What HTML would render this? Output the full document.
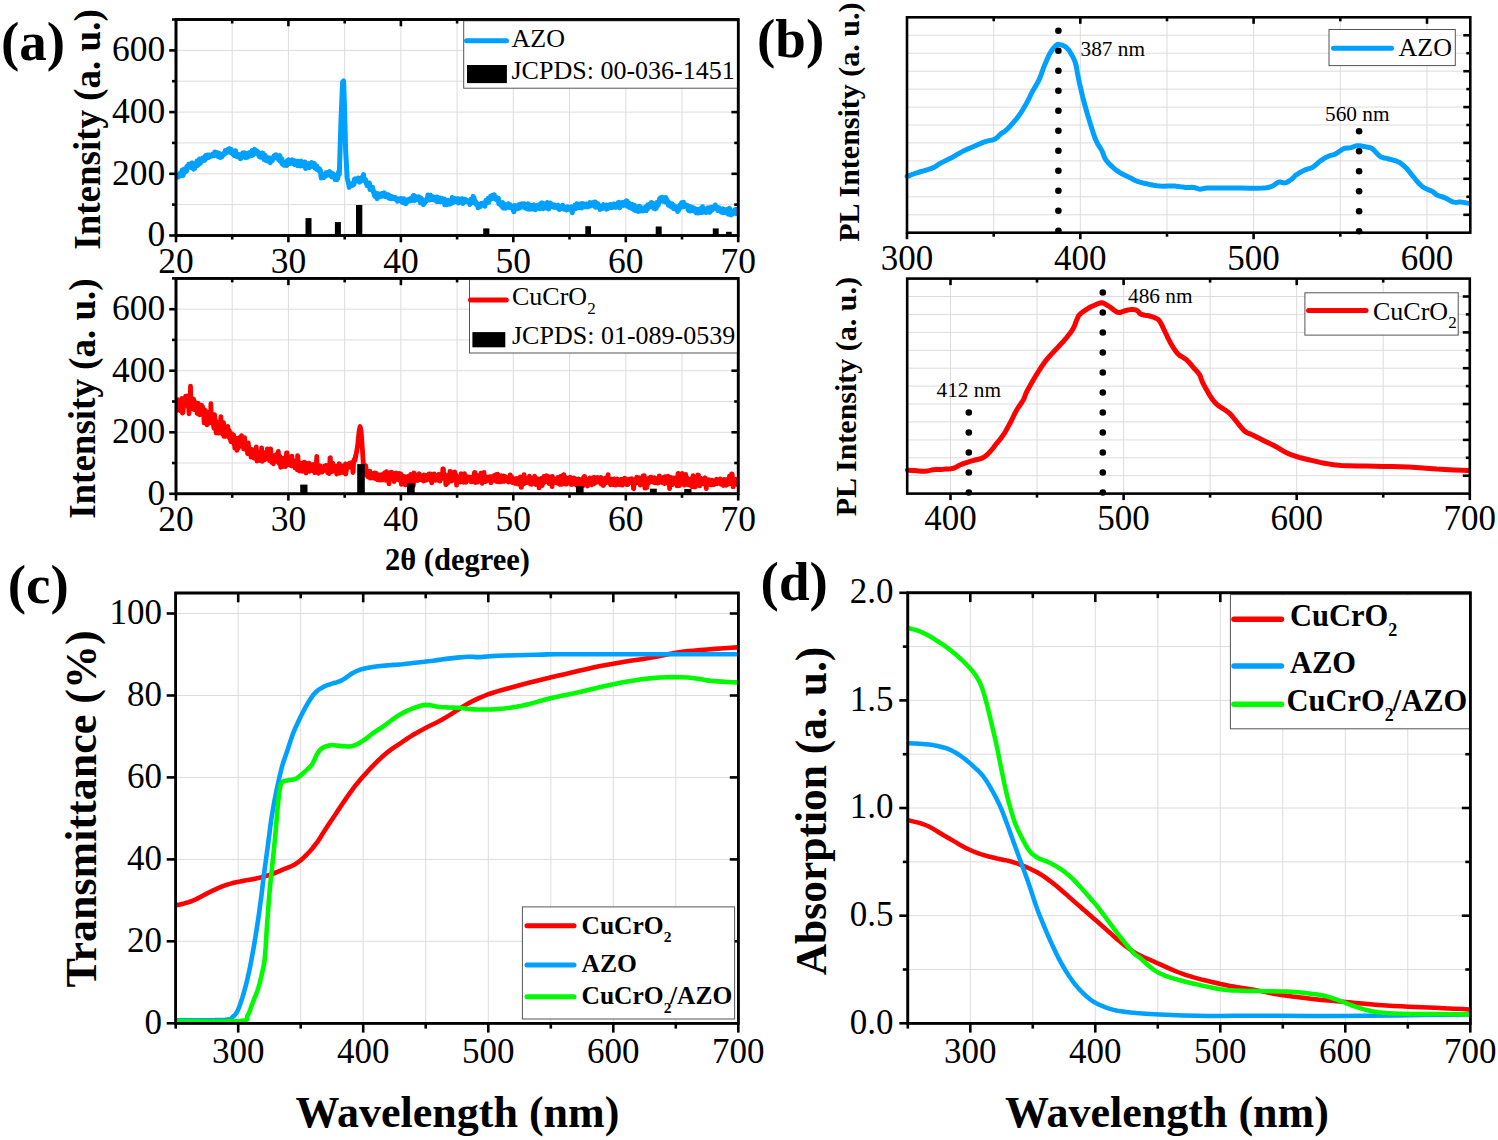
<!DOCTYPE html>
<html><head><meta charset="utf-8"><title>figure</title>
<style>html,body{margin:0;padding:0;background:#fff;}svg{display:block;}text{font-family:"Liberation Serif", serif;fill:#000;}</style>
</head><body>
<svg width="1498" height="1140" viewBox="0 0 1498 1140" font-family='"Liberation Serif", serif'>
<rect width="1498" height="1140" fill="#fff"/>
<line x1="232.2" y1="19.5" x2="232.2" y2="235.5" stroke="#dcdcdc" stroke-width="1" stroke-linecap="butt"/>
<line x1="288.4" y1="19.5" x2="288.4" y2="235.5" stroke="#dcdcdc" stroke-width="1" stroke-linecap="butt"/>
<line x1="344.7" y1="19.5" x2="344.7" y2="235.5" stroke="#dcdcdc" stroke-width="1" stroke-linecap="butt"/>
<line x1="400.9" y1="19.5" x2="400.9" y2="235.5" stroke="#dcdcdc" stroke-width="1" stroke-linecap="butt"/>
<line x1="457.1" y1="19.5" x2="457.1" y2="235.5" stroke="#dcdcdc" stroke-width="1" stroke-linecap="butt"/>
<line x1="513.3" y1="19.5" x2="513.3" y2="235.5" stroke="#dcdcdc" stroke-width="1" stroke-linecap="butt"/>
<line x1="569.5" y1="19.5" x2="569.5" y2="235.5" stroke="#dcdcdc" stroke-width="1" stroke-linecap="butt"/>
<line x1="625.8" y1="19.5" x2="625.8" y2="235.5" stroke="#dcdcdc" stroke-width="1" stroke-linecap="butt"/>
<line x1="682" y1="19.5" x2="682" y2="235.5" stroke="#dcdcdc" stroke-width="1" stroke-linecap="butt"/>
<line x1="176" y1="204.6" x2="738.2" y2="204.6" stroke="#dcdcdc" stroke-width="1" stroke-linecap="butt"/>
<line x1="176" y1="173.8" x2="738.2" y2="173.8" stroke="#dcdcdc" stroke-width="1" stroke-linecap="butt"/>
<line x1="176" y1="142.9" x2="738.2" y2="142.9" stroke="#dcdcdc" stroke-width="1" stroke-linecap="butt"/>
<line x1="176" y1="112.1" x2="738.2" y2="112.1" stroke="#dcdcdc" stroke-width="1" stroke-linecap="butt"/>
<line x1="176" y1="81.2" x2="738.2" y2="81.2" stroke="#dcdcdc" stroke-width="1" stroke-linecap="butt"/>
<line x1="176" y1="50.4" x2="738.2" y2="50.4" stroke="#dcdcdc" stroke-width="1" stroke-linecap="butt"/>
<rect x="305.5" y="218.1" width="6" height="17.4" fill="#000"/>
<rect x="334.9" y="222.1" width="6" height="13.4" fill="#000"/>
<rect x="356" y="205" width="6.3" height="30.5" fill="#000"/>
<rect x="483.2" y="228.4" width="6.2" height="7.1" fill="#000"/>
<rect x="585.3" y="226.2" width="5.7" height="9.3" fill="#000"/>
<rect x="655.7" y="226.5" width="6" height="9" fill="#000"/>
<rect x="712.8" y="228.4" width="5.9" height="7.1" fill="#000"/>
<rect x="726" y="231.8" width="5.7" height="3.7" fill="#000"/>
<polyline points="177.3,175.6 177.6,176.3 177.9,175.5 178.2,177.1 178.5,176.7 178.8,174.3 179.1,174.2 179.4,175.9 179.7,173.8 180,173.3 180.4,174.8 180.7,175.6 181,174.1 181.3,172.2 181.6,172.6 181.9,173.8 182.2,170.1 182.5,173.9 182.8,172.2 183.1,175.6 183.4,172.4 183.7,171.9 184,172.6 184.3,172.7 184.6,169 185,170.2 185.3,170.8 185.6,171 185.9,168.4 186.2,168.4 186.5,171.2 186.8,166.6 187.1,168.2 187.5,166.3 187.8,166.8 188.1,166.5 188.4,165.8 188.7,164.3 189,167.3 189.3,166 189.6,167.1 189.9,164.5 190.3,165.4 190.6,166.7 190.9,164.3 191.2,165.9 191.5,167.7 191.8,163 192.1,165.4 192.4,162.9 192.8,166.8 193.1,167.4 193.4,167.3 193.7,169.2 194,168.4 194.3,168.3 194.6,166.3 194.9,168.2 195.2,165 195.5,165.2 195.8,165.2 196.1,165.3 196.4,164.5 196.7,165.9 197,161 197.3,162 197.7,165.6 198,164.2 198.3,164 198.6,163.8 198.9,160.7 199.2,164 199.5,159.1 199.8,161.7 200.1,160.6 200.4,163.1 200.7,161.3 201,159.2 201.3,161 201.6,161.4 201.9,161 202.2,159.8 202.5,158.1 202.9,158.5 203.2,159.2 203.5,158.9 203.8,159.8 204.1,158.3 204.4,159.4 204.7,160.3 205,156.9 205.3,156.5 205.6,155.6 205.9,156.5 206.2,158 206.5,158.2 206.9,155.7 207.2,155 207.5,155.6 207.8,157.3 208.1,155.6 208.4,156.8 208.7,157.5 209,157.1 209.3,155 209.6,156.2 209.9,156.8 210.2,155.8 210.5,156 210.9,156 211.2,156.2 211.5,155.5 211.8,156 212.1,155.9 212.4,155.3 212.7,154 213,154.1 213.3,155.7 213.6,154.9 213.9,153.6 214.2,155.8 214.5,155.7 214.9,151.9 215.2,154.9 215.5,154.6 215.8,152.5 216.1,153.5 216.4,154.1 216.7,153.6 217,154.5 217.3,152.7 217.6,153.8 217.9,154.9 218.2,156.7 218.5,154.6 218.8,155.5 219.1,153.2 219.4,155.3 219.7,157.3 220.1,156.7 220.4,156.7 220.7,157.5 221,155.5 221.3,157 221.6,155.1 221.9,156.9 222.2,155.5 222.5,154.7 222.8,154.3 223.1,155.1 223.4,154.1 223.7,153.5 224,154.4 224.3,153.6 224.6,153.2 224.9,152.3 225.2,150.6 225.6,153.4 225.9,151.9 226.2,152 226.5,151 226.8,150.7 227.1,150.9 227.4,150.4 227.7,149.6 228,151.9 228.3,149.4 228.6,150.2 228.9,151 229.2,150 229.5,148.6 229.8,149.9 230.1,149.2 230.4,152.6 230.8,150.6 231.1,151.9 231.4,149.4 231.7,152.3 232,152.4 232.3,152.3 232.6,154 232.9,152.6 233.2,151.9 233.5,152.2 233.8,155.1 234.1,151.2 234.4,152.4 234.7,155.7 235,151.2 235.3,154.1 235.6,150.7 235.9,154.4 236.2,154.2 236.5,153.8 236.8,156.5 237.1,154.6 237.4,154.6 237.8,155.5 238.1,157 238.4,156.5 238.7,154.4 239,155.7 239.3,156.9 239.6,157.5 239.9,154.8 240.2,157.1 240.5,158.7 240.8,156.9 241.1,158.3 241.4,156.1 241.7,155.6 242,155.9 242.4,156.8 242.7,153.1 243,156 243.3,156.3 243.6,156.5 243.9,155.2 244.2,152.8 244.5,157.1 244.8,155 245.1,156.7 245.4,154.1 245.8,157.6 246.1,156.5 246.4,154.8 246.7,155 247,153.2 247.3,154.8 247.6,157.3 247.9,153.7 248.2,154.1 248.6,154.9 248.9,152.9 249.2,155.3 249.5,155.9 249.8,152.6 250.1,153.5 250.4,153.4 250.7,154.9 251,154.1 251.3,154.8 251.6,153 251.9,155.6 252.2,150.5 252.5,154.5 252.8,155.1 253.1,152.4 253.4,154.5 253.8,152.1 254.1,152.2 254.4,150.9 254.7,149.4 255,152.3 255.3,153.2 255.6,152.2 255.9,151.1 256.2,151.3 256.5,152.1 256.8,153.5 257.1,150.9 257.4,151.9 257.7,153.7 258,153.4 258.3,152.4 258.6,155.2 258.9,153 259.2,155.1 259.5,156.7 259.8,155.1 260.1,153.6 260.5,157.2 260.8,154 261.1,155.4 261.4,154 261.7,156.7 262,155.8 262.3,152.9 262.6,154.1 262.9,153.2 263.2,156.3 263.5,157.5 263.8,157.9 264.1,159.4 264.4,157.1 264.7,154.9 265.1,156.5 265.4,157.5 265.7,158.7 266,160.5 266.3,160.1 266.6,157.1 266.9,158.7 267.2,160.2 267.6,160.8 267.9,158.6 268.2,158.7 268.5,160 268.8,159.2 269.1,161.4 269.4,161.2 269.7,158.1 270,159.7 270.3,162.7 270.6,159.2 270.9,158.8 271.2,159.4 271.5,160.2 271.8,159.8 272.1,160.9 272.5,158 272.8,158.3 273.1,157.2 273.4,159 273.7,158.4 274,156 274.3,157.9 274.6,155.7 274.9,155.5 275.2,155.4 275.5,157.2 275.8,154.8 276.1,156.1 276.4,155.2 276.7,157.3 277.1,157.3 277.4,155.9 277.7,158.1 278,157.8 278.3,159.5 278.6,158.8 278.9,158 279.2,158.3 279.6,156.1 279.9,155.7 280.2,161.4 280.5,157.8 280.8,160.2 281.1,159 281.5,161.6 281.8,158.7 282.1,163.6 282.5,164.1 282.8,161.6 283.2,163.7 283.5,164.5 283.8,165.1 284.1,163.4 284.4,163 284.7,163.3 285,165.3 285.3,162.8 285.6,164.4 285.9,163.9 286.2,163.6 286.5,162.4 286.9,165.4 287.2,160.8 287.5,163 287.8,161 288.1,162.8 288.4,163 288.7,159.8 289,162.8 289.3,162.2 289.6,160.3 289.9,163.6 290.2,161.7 290.5,161.1 290.8,161.8 291.1,162.4 291.4,160.7 291.7,162.2 292,160.3 292.3,159.9 292.6,162 292.9,163.5 293.2,163.3 293.5,162.6 293.8,162.9 294.1,162.1 294.4,163.2 294.7,164.6 295,160.7 295.3,163.2 295.6,164 295.9,164.2 296.2,163.2 296.5,161.7 296.8,162.5 297.1,162.4 297.4,163.4 297.7,165.7 298,161.2 298.3,164.1 298.6,165.4 298.9,162.5 299.2,164.3 299.5,164.1 299.8,163 300.1,162.7 300.5,166 300.8,165.9 301.1,161 301.4,164.2 301.7,165.7 302,163.6 302.3,165.2 302.6,163.3 302.9,165 303.2,164 303.5,164.3 303.8,166 304.1,165.1 304.4,162.7 304.7,163.9 305,162 305.3,165.4 305.6,168.6 305.9,166.4 306.2,165.1 306.5,164.4 306.8,164.9 307.1,166.1 307.4,166.4 307.7,164.6 308,165.2 308.4,164.2 308.7,165.6 309,163.6 309.3,166.5 309.6,167.5 309.9,164.6 310.2,166.2 310.5,166.3 310.8,164.8 311.1,165.8 311.4,164.9 311.7,162.5 312,165.4 312.3,165.5 312.6,166.2 312.9,164 313.2,166.2 313.5,164.9 313.8,165.7 314.1,165.1 314.4,163.5 314.7,166.8 315,168.1 315.3,166.8 315.6,167.8 315.9,167.5 316.2,167.9 316.5,168.4 316.8,166.1 317.1,169.4 317.4,168.8 317.7,169.7 318,170.1 318.3,168.7 318.6,170.4 318.9,169.9 319.2,170.9 319.5,168.7 319.8,171.7 320.2,171.2 320.5,170.7 320.9,175.6 321.2,178 321.5,176.7 321.8,174.6 322.1,174.8 322.4,176.1 322.7,175.2 323,175.2 323.4,175.9 323.7,176.8 324,177.5 324.3,176.7 324.6,175.6 324.9,175.6 325.2,175.7 325.5,175.1 325.8,172.8 326.1,175.1 326.4,175.5 326.7,173.5 327,172.7 327.4,173.3 327.7,175 328,173.7 328.3,174.4 328.6,172.8 328.9,175 329.2,172.2 329.5,171.5 329.8,173.2 330.1,174 330.4,174 330.8,172.6 331.1,172.9 331.4,174.8 331.7,176.8 332,174.7 332.3,173.5 332.6,173.5 332.9,173.7 333.2,175.6 333.5,176.7 333.8,175.4 334.1,174.9 334.5,176.1 334.8,176.3 335.1,179.5 335.4,177.1 335.7,178.9 336,179.4 336.3,175.1 336.6,178.2 336.9,179.8 337.2,178.9 337.5,176.6 337.8,178.4 338.1,175.4 338.4,172.3 338.7,173.7 339,172.9 339.3,174.1 341,120 342.6,82 343.6,81 344.6,110 345.6,150 347.2,178 348.9,184.9 348.9,185.4 349.2,187.4 349.5,184.6 349.8,185.6 350.1,183.7 350.4,184.5 350.7,185.3 351,184.6 351.3,185.7 351.6,183.8 351.9,185.6 352.2,185.6 352.5,184.6 352.8,184.3 353.1,183.6 353.4,183.4 353.8,184.6 354.1,183.5 354.4,179.3 354.7,179 355,178.8 355.3,180.2 355.6,181.2 355.9,179.4 356.2,179.4 356.5,179.6 356.8,179.6 357.1,179.3 357.5,181 357.8,180.4 358.1,181 358.4,178 358.7,180.7 359,179.7 359.3,180.8 359.6,182.1 359.9,179.8 360.2,179.4 360.5,178.6 360.8,179.2 361.1,179.6 361.5,180.4 361.8,177.4 362.1,177.9 362.4,178.7 362.7,179 363,179.3 363.3,178.6 363.6,174.5 363.9,180.6 364.2,178 364.5,178.8 364.8,179.7 365.1,180.4 365.5,181.6 365.8,180.1 366.1,181.2 366.4,183.7 366.7,183 367,185.5 367.3,184.5 367.6,184.3 367.9,185.9 368.2,184.8 368.5,183.7 368.8,184.8 369.1,184.8 369.4,183 369.7,185.4 370,189.5 370.4,186.5 370.7,188.7 371,187.2 371.3,187.8 371.6,188.5 371.9,188.5 372.3,189.9 372.6,187.2 373,191.5 373.3,190 373.7,192.7 374,193.6 374.3,193.8 374.6,195.8 374.9,196.3 375.2,192.7 375.5,195.4 375.9,194.2 376.2,195.4 376.5,193.2 376.8,197.6 377.1,198.6 377.4,194.9 377.7,195.3 378,193.8 378.3,197.2 378.6,194 378.9,195.3 379.2,195.6 379.6,195.2 379.9,195.4 380.2,194.6 380.5,196.7 380.8,193.9 381.1,194.9 381.4,196.4 381.7,194.1 382,193.6 382.3,194 382.7,195 383,194.6 383.3,196 383.6,194.5 383.9,193.6 384.2,192.8 384.5,194.7 384.8,194.3 385.1,195.9 385.4,196.8 385.7,195.2 386,194.2 386.4,196.7 386.7,196.1 387,196.1 387.3,196.8 387.6,196.6 387.9,196.2 388.2,195.2 388.5,194.8 388.8,197.9 389.1,195.4 389.4,198.1 389.7,196 390,198.4 390.3,196.1 390.6,197.4 390.9,197.9 391.2,196.7 391.6,198.8 391.9,198.5 392.2,196.7 392.5,197.4 392.8,197.1 393.1,197.5 393.4,197.8 393.7,197.9 394,198.1 394.3,198.6 394.6,197.7 394.9,198.6 395.2,197.4 395.6,198.2 395.9,198.4 396.2,199.7 396.5,198.9 396.8,199.9 397.1,199 397.4,201.2 397.7,199.2 398,200.4 398.3,199 398.7,199.2 399,199.3 399.3,199.7 399.6,200 399.9,200.1 400.2,200.7 400.5,198.8 400.8,200 401.1,198.4 401.4,200 401.7,201 402,202 402.3,201.8 402.6,202.4 402.9,198.9 403.3,200.5 403.6,202.3 403.9,198.8 404.2,200.1 404.5,203.1 404.8,202.1 405.1,203.2 405.4,202 405.7,203.8 406,202.6 406.3,202.6 406.6,200.8 406.9,202.3 407.2,201.4 407.5,200.4 407.8,201.1 408.1,199.6 408.4,200.1 408.7,199.3 409.1,200.4 409.4,201 409.7,199.8 410,200.8 410.3,200.2 410.6,200 410.9,198.4 411.2,198.2 411.5,199.3 411.8,198 412.1,200.6 412.4,198.3 412.7,200.4 413,195.9 413.3,197.1 413.7,195.5 414,196.5 414.3,199.2 414.6,200.6 414.9,196.9 415.2,199.6 415.5,198 415.8,197.3 416.1,197 416.4,198.5 416.8,199.3 417.1,197.4 417.4,199.4 417.7,197.7 418,197 418.3,197.7 418.6,196.9 418.9,198.9 419.2,199 419.5,200.7 419.9,201.1 420.2,199.3 420.5,202.7 420.8,197.9 421.1,199 421.4,203 421.7,201.1 422,200.1 422.4,199.4 422.7,201.7 423,202.9 423.3,204.6 423.6,203.4 423.9,204 424.2,201.2 424.5,202.5 424.8,200.9 425.1,202.5 425.5,201.8 425.8,201.5 426.1,201.1 426.4,200.9 426.7,199.3 427,200.2 427.3,198.7 427.6,197.4 427.9,195.1 428.2,196.7 428.5,198.8 428.9,196.7 429.2,198.3 429.5,199.1 429.8,200 430.1,197.3 430.4,195.3 430.7,196.3 431,197 431.3,197.3 431.6,196.9 431.9,199.5 432.2,196.6 432.6,198.7 432.9,198.3 433.2,197.4 433.5,197.1 433.8,197.5 434.1,197.4 434.4,200 434.7,197.7 435,200 435.3,197.6 435.6,198 435.9,198 436.2,199.2 436.6,201.5 436.9,196.9 437.2,199.1 437.5,200.2 437.8,197.9 438.1,201.6 438.4,199.1 438.7,199.3 439,201.2 439.3,198.1 439.6,199.3 439.9,201.2 440.2,201.6 440.5,201.7 440.8,198.3 441.1,199.7 441.4,200.8 441.7,199.2 442,198.3 442.3,199.5 442.6,201.6 442.9,200.9 443.2,200.7 443.5,201.8 443.8,200.7 444.1,199.4 444.4,199.2 444.7,204.8 445,203.2 445.3,202 445.6,204.5 445.9,202.8 446.2,203.5 446.5,203.6 446.8,204.7 447.1,203.9 447.4,204.3 447.7,201.8 448,200.3 448.3,202.8 448.6,202.2 448.9,203.3 449.2,202.4 449.5,204.2 449.8,201.6 450.1,201.7 450.4,202.4 450.7,202 451,200.3 451.3,201.1 451.6,203.3 451.9,201 452.2,197.6 452.5,201.7 452.8,200.8 453.1,199.1 453.4,199.4 453.7,202.3 454,199 454.3,202.1 454.6,198.4 454.9,199.4 455.3,200 455.6,198.7 455.9,201.3 456.2,199 456.5,200.6 456.8,200.8 457.1,199.9 457.4,198.7 457.7,200.5 458,199.4 458.3,203 458.6,199.3 458.9,198.9 459.3,200 459.6,201.1 459.9,200.9 460.2,199.6 460.5,201 460.8,199.5 461.1,201.5 461.4,201.9 461.7,200.5 462,198.7 462.3,199.7 462.6,201.6 462.9,203.5 463.2,200.5 463.5,200.1 463.8,200.3 464.1,200 464.4,199.5 464.7,200.3 465.1,201.7 465.4,200.7 465.7,200.8 466,199.7 466.3,201.1 466.6,200.8 466.9,201 467.2,200.9 467.5,201.4 467.8,201.9 468.1,201.4 468.4,201.3 468.7,202.6 469,201.4 469.3,202 469.6,201.6 469.9,204.5 470.2,201.8 470.5,202.1 470.8,199.2 471.1,200.6 471.4,199.2 471.7,202.5 472,199.5 472.3,200.1 472.6,200.6 472.9,197.4 473.2,196.4 473.5,202.8 473.8,199.7 474.1,197.7 474.4,200.9 474.7,202.2 475,200.8 475.3,202.1 475.6,201.8 476,203.2 476.3,204.5 476.6,203.6 476.9,204.6 477.2,204.1 477.5,204.4 477.8,206.1 478.1,207.8 478.4,206.5 478.7,204 479,205.2 479.3,205.4 479.6,207.1 480,205.6 480.3,206.7 480.6,204.4 480.9,204.5 481.2,204.2 481.5,205 481.8,203.4 482.1,203.6 482.4,203.3 482.7,204 483,205 483.4,205 483.7,204 484,202.9 484.3,203.9 484.6,205.8 484.9,206.2 485.2,203.7 485.5,202 485.8,203.2 486.1,200.2 486.4,201.5 486.7,203.1 487,201.6 487.3,201 487.6,200.7 487.9,198.6 488.2,199.1 488.5,200.9 488.8,202.2 489.1,198.1 489.4,197.9 489.7,198.4 490,199.2 490.3,198.4 490.6,196.2 490.9,198.1 491.2,198.1 491.5,197.2 491.8,197.9 492.2,198.5 492.5,195.3 492.8,197.5 493.1,195.8 493.4,197.1 493.7,197.1 494,196.9 494.3,194.8 494.6,197 495,198.7 495.3,196.6 495.6,199.1 495.9,197.6 496.2,197.3 496.5,199.5 496.8,197.7 497.1,200.2 497.4,200 497.7,200.1 498.1,199.9 498.4,198.2 498.7,203.6 499,202.1 499.3,202.7 499.6,204.2 499.9,204.3 500.2,203.7 500.5,203.4 500.8,205.3 501.1,204.2 501.4,204.7 501.7,203.9 502.1,205.5 502.4,206.9 502.7,202.5 503,207.2 503.3,208 503.6,206.3 503.9,206.2 504.2,204.6 504.5,206.9 504.8,205.6 505.1,206.4 505.4,208.2 505.7,206.3 506.1,207.1 506.4,207.1 506.7,204.4 507,205.4 507.3,204.7 507.6,205.3 507.9,204.4 508.2,207.3 508.6,203.7 508.9,205.7 509.2,205.2 509.5,206.7 509.8,205.5 510.1,204.8 510.4,205.1 510.8,207.8 511.1,206.2 511.4,206.4 511.7,208.1 512,205.9 512.3,207.7 512.7,208.5 513,208.1 513.3,210.7 513.6,209.9 513.9,211.8 514.2,206.5 514.5,209.9 514.8,205.4 515.1,207.8 515.4,207.7 515.7,206.8 516,206.7 516.3,208 516.6,207.9 516.9,208 517.2,206.6 517.6,208.7 517.9,207.3 518.2,205.3 518.5,205 518.8,208.2 519.1,205.3 519.4,208.2 519.7,204.7 520,205.8 520.3,204.2 520.6,206.8 520.9,204.7 521.2,204 521.5,203.8 521.8,207 522.1,205.4 522.4,205.2 522.7,206 523.1,205.6 523.4,205.3 523.7,204.9 524,203.9 524.3,204.4 524.6,204 524.9,205.6 525.2,207.9 525.5,205 525.8,205.9 526.1,204.8 526.5,206.2 526.8,205.6 527.1,204.8 527.4,204.7 527.7,209 528,203.7 528.3,207.9 528.6,207.6 528.9,207.3 529.2,204.8 529.5,206.8 529.9,207.8 530.2,209.3 530.5,207.9 530.8,205.8 531.1,206.8 531.4,205.5 531.7,207.3 532,206.6 532.3,206.7 532.6,208.9 532.9,205.4 533.3,206.1 533.6,205.2 533.9,204.9 534.2,209.1 534.5,207.7 534.8,206.5 535.1,209.1 535.4,209.7 535.7,208.3 536,206.6 536.3,207.1 536.6,207.8 536.9,205.5 537.2,207.8 537.5,207.9 537.8,207.2 538.1,206.1 538.4,207.5 538.7,205.6 539,206 539.3,208.3 539.6,204.4 539.9,208.8 540.2,205.6 540.5,207.6 540.8,207.8 541.1,206.5 541.4,202.9 541.7,204.4 542,206.4 542.3,203 542.6,204.3 542.9,206.8 543.2,208.7 543.5,204.3 543.8,207.1 544.1,204.8 544.4,204.3 544.7,203.9 545,208.1 545.3,206.6 545.6,207.9 545.9,205.3 546.2,207.4 546.5,204.5 546.8,204.2 547.1,206.1 547.4,202.6 547.7,204.9 548,204.3 548.3,203.5 548.6,209.1 548.9,205.3 549.3,206 549.6,203.4 549.9,204.6 550.2,206.8 550.5,203 550.8,205.8 551.1,206.3 551.4,206 551.7,205.3 552,204.6 552.3,205.6 552.6,206.7 552.9,206.2 553.2,206 553.5,207.3 553.8,205 554.1,207.3 554.4,205.1 554.8,206.6 555.1,207 555.4,205.3 555.7,207.3 556,205.9 556.3,206.8 556.6,207.5 556.9,207.8 557.2,207.8 557.5,207.1 557.8,206.5 558.1,205.2 558.4,207.1 558.7,206.6 559,207.7 559.3,209.6 559.6,208.3 559.9,207.7 560.2,207.5 560.5,207.7 560.8,207.2 561.1,207.4 561.4,207 561.7,208.4 562,207.2 562.3,206.1 562.6,205.2 562.9,208.9 563.2,208 563.5,208.3 563.8,208 564.1,206.9 564.4,209 564.7,207.4 565.1,209.2 565.4,208.2 565.7,209.3 566,208.2 566.3,210.1 566.6,207.9 566.9,207.7 567.2,209.1 567.5,207.9 567.8,206.8 568.1,208.2 568.4,207.1 568.7,207.6 569,208.2 569.3,209.3 569.6,207.8 569.9,209.1 570.2,209.4 570.5,209.5 570.8,208.4 571.1,207.5 571.4,207 571.7,210 572,210.3 572.3,212.7 572.6,209.6 572.9,209.4 573.2,208.5 573.5,208.1 573.9,206.9 574.2,207.7 574.5,208.3 574.8,208.4 575.1,204.9 575.4,207.2 575.7,208.6 576,207.4 576.3,205.4 576.7,203.7 577,206.2 577.3,205.8 577.6,204.6 577.9,207.6 578.2,205.4 578.5,207.8 578.8,204 579.1,207.4 579.4,205.3 579.7,204.7 580.1,207.2 580.4,207.1 580.7,206.1 581,205.1 581.3,205.9 581.6,208 581.9,203.6 582.2,207.3 582.5,206.7 582.8,205.9 583.1,206.8 583.4,203.7 583.7,206.6 584.1,204.2 584.4,205.8 584.7,206.4 585,206.2 585.3,206.7 585.6,205.9 585.9,204.3 586.2,206.7 586.5,204.1 586.8,205.4 587.1,206.6 587.4,206.4 587.8,206.8 588.1,206.1 588.4,205.4 588.7,205.1 589,203.8 589.3,206.3 589.6,203.5 589.9,202.7 590.2,204.3 590.5,204 590.8,203.4 591.2,205.9 591.5,205.1 591.8,204.6 592.1,204 592.4,202.8 592.7,202.9 593,203.9 593.3,202.5 593.6,202.4 593.9,203.7 594.2,202.9 594.6,204.5 594.9,203.9 595.2,202 595.5,207.3 595.8,202.5 596.1,203.1 596.4,203.8 596.7,204.9 597,206.8 597.3,204 597.6,207.1 598,203.8 598.3,204.8 598.6,207.4 598.9,205.3 599.2,207.1 599.5,206.5 599.8,206 600.1,209.5 600.4,207.4 600.7,206.5 601,207.7 601.3,208.5 601.6,207.4 601.9,207.8 602.2,206.3 602.5,207.5 602.8,208.4 603.1,207.3 603.5,204.6 603.8,207.8 604.1,206.8 604.4,206 604.7,208 605,205.3 605.3,207.5 605.6,206.8 605.9,208.3 606.2,207.9 606.5,209.2 606.8,204.9 607.1,207.8 607.4,207.4 607.7,206.2 608,207.8 608.3,205.4 608.6,207.5 608.9,208.1 609.2,206.9 609.5,206.5 609.8,206.8 610.1,204.6 610.4,206.1 610.7,207.3 611,207.1 611.3,207.2 611.6,207.6 612,205.6 612.3,205.8 612.6,207.5 612.9,205.8 613.2,205.5 613.5,204 613.8,205.3 614.1,205.7 614.4,206.2 614.7,204.3 615,205.1 615.3,205 615.6,205.7 615.9,207.4 616.2,205.3 616.5,206.1 616.8,206 617.1,204.5 617.4,204.7 617.7,205.4 618,202.7 618.3,203.7 618.6,206 618.9,206.2 619.2,202.3 619.5,204.8 619.8,207.8 620.1,205.1 620.4,203.6 620.7,204.8 621,204.9 621.4,203.6 621.7,204.5 622,204.2 622.3,205.3 622.6,203.4 622.9,202.3 623.2,204.1 623.5,204.2 623.8,205.4 624.1,202.8 624.4,203.5 624.7,203.5 625,202.9 625.3,205 625.6,203 625.9,203.1 626.2,200.9 626.5,205.2 626.8,200.7 627.1,204.1 627.5,206.2 627.8,205.9 628.1,203.8 628.4,205.3 628.7,202.8 629,206.1 629.3,207.4 629.6,206.7 629.9,205.9 630.2,205.4 630.5,208 630.9,206.9 631.2,208.3 631.5,206.3 631.8,205.7 632.1,204.4 632.4,206.9 632.7,205.9 633,208.2 633.3,207.9 633.6,208 633.9,209.6 634.2,207 634.5,205.2 634.8,206.6 635.1,208.4 635.4,207.5 635.7,210.7 636,210.4 636.3,209.5 636.6,207.6 636.9,210.4 637.2,207.9 637.5,207.1 637.8,209.6 638.1,210 638.4,211.4 638.7,210 639,209.6 639.3,208.2 639.6,206.3 639.9,211 640.2,207.8 640.5,209.2 640.8,208.2 641.1,209.4 641.4,209.4 641.7,209.6 642,208.5 642.3,208.1 642.6,210.1 642.9,210.9 643.2,208.9 643.5,209.7 643.8,208.2 644.1,207.9 644.4,209.1 644.7,208.6 645,210.4 645.3,208.7 645.6,207.4 645.9,206.7 646.2,210.7 646.5,207.1 646.8,207.3 647.2,208.3 647.5,209.1 647.8,204.8 648.1,208.1 648.4,207.7 648.7,206 649,205.9 649.3,204.2 649.6,206.5 649.9,206.7 650.2,205.8 650.5,204.3 650.8,205.9 651.1,206.6 651.4,202.5 651.7,204.2 652,202.6 652.3,205.3 652.6,205.1 652.9,206.6 653.2,203.8 653.5,205.6 653.8,208.2 654.1,206.3 654.4,206 654.7,204.2 655,205.2 655.3,208.9 655.6,207.9 655.9,206.5 656.2,208.4 656.5,204.5 656.8,202.4 657.1,205.3 657.4,204.8 657.7,204 658,204.4 658.3,205.1 658.7,201.4 659,200.8 659.3,201.3 659.6,198.7 659.9,200.2 660.2,201.2 660.5,197.8 660.8,199.2 661.1,198.4 661.4,199.1 661.7,198.1 662,197.2 662.3,201.3 662.6,199.9 662.9,201.1 663.2,200.7 663.5,200.7 663.8,200.8 664.1,199.3 664.4,200 664.7,199.9 665,200.2 665.3,202 665.6,197.5 665.9,200 666.2,199.9 666.5,198.8 666.8,200.8 667.1,200.4 667.4,200.4 667.7,201.9 668.1,203 668.4,205.3 668.7,202.7 669,202.4 669.3,203.5 669.6,204.8 669.9,203.3 670.2,204.4 670.5,206.3 670.9,205.8 671.2,205 671.5,205.9 671.8,207.1 672.1,203.7 672.4,206.1 672.7,206.7 673,207.4 673.3,205.5 673.6,207.5 673.9,208.7 674.2,207.3 674.6,208.5 674.9,206.1 675.2,206.7 675.5,207.2 675.8,207.2 676.1,208.2 676.4,209.3 676.7,208.9 677,208.3 677.3,209 677.6,211.4 677.9,208.6 678.2,208.5 678.6,210.4 678.9,209.1 679.2,207.7 679.5,206 679.8,205.3 680.1,206.1 680.4,206.3 680.7,205.1 681,207.3 681.3,205.2 681.6,202.8 682,206.5 682.3,205.3 682.6,204.7 682.9,202.4 683.2,206.8 683.5,202.3 683.8,204.3 684.1,204.8 684.4,204 684.7,205.5 685,205.5 685.4,205.4 685.7,205 686,205.4 686.3,205.6 686.6,205.1 686.9,206 687.2,205.3 687.5,206.9 687.8,207.8 688.1,209.8 688.4,207 688.8,210.5 689.1,209.1 689.4,206.6 689.7,209.5 690,210.9 690.3,209.9 690.6,210.2 690.9,209 691.2,210.9 691.5,207 691.8,210.5 692.1,208.5 692.4,209.4 692.7,209.8 693,209.9 693.3,210.8 693.6,208 693.9,208.5 694.2,209.6 694.6,209.3 694.9,210.5 695.2,211.4 695.5,208.8 695.8,211.5 696.1,210.8 696.4,212.9 696.7,212.5 697,210.3 697.3,210.7 697.6,211.5 697.9,213 698.2,210.2 698.5,210.3 698.8,209.2 699.1,212.8 699.4,210.8 699.7,210.7 700,210.2 700.4,210.7 700.7,208.9 701,208.5 701.3,212.5 701.6,209.5 701.9,210.4 702.2,210.3 702.5,206.8 702.8,207.3 703.1,211.7 703.4,212 703.7,210.1 704,210.4 704.4,210 704.7,209.8 705,209.7 705.3,212.1 705.6,212 705.9,212.4 706.2,209.2 706.5,210.2 706.8,211.2 707.1,209.6 707.4,208.2 707.7,208 708,210.9 708.3,210 708.6,209.8 708.9,209.6 709.2,212.3 709.5,208.5 709.8,211.7 710.1,212 710.4,209.5 710.8,210.3 711.1,207.2 711.4,208.6 711.7,208.5 712,208 712.3,210 712.6,208.6 712.9,208.7 713.2,208.4 713.5,206.8 713.8,206.6 714.1,207.3 714.4,207.9 714.7,206.3 715,208.4 715.3,205 715.6,206.6 715.9,206.6 716.2,207.9 716.5,208.2 716.8,209 717.2,208.6 717.5,207.5 717.8,210.6 718.1,208.3 718.4,209.7 718.7,209.3 719,207.8 719.3,210.1 719.6,210.3 719.9,208.7 720.2,209.9 720.6,211.3 720.9,211.8 721.2,211.5 721.5,212 721.8,210.4 722.1,211.8 722.4,209.7 722.7,208.8 723,212.8 723.3,211.1 723.6,211.2 724,210.7 724.3,209.5 724.6,211.4 724.9,211.7 725.2,212.1 725.5,212.7 725.8,212.3 726.1,210.4 726.4,211.6 726.7,212.3 727,209.6 727.4,212.9 727.7,211.7 728,214 728.3,214.2 728.6,214 728.9,214 729.2,213.9 729.5,208.3 729.8,211.7 730.1,212.6 730.4,212.4 730.7,211.1 731,215 731.3,214 731.6,213.5 731.9,211.6 732.2,212 732.5,214 732.8,213.4 733.2,212.4 733.5,212.7 733.8,211.6 734.1,210.8 734.4,210.2 734.7,213.3 735,213 735.3,213.2 735.6,209.4 735.9,213.6 736.2,211.9 736.5,210.1 736.8,209.7" fill="none" stroke="#00a0ff" stroke-width="5.0" stroke-linejoin="round" stroke-linecap="round"/>
<rect x="176" y="19.5" width="562.2" height="216" fill="none" stroke="#000" stroke-width="2.6"/>
<line x1="176" y1="235.5" x2="176" y2="242.3" stroke="#000" stroke-width="2.6" stroke-linecap="butt"/>
<line x1="232.2" y1="235.5" x2="232.2" y2="239.5" stroke="#000" stroke-width="2.6" stroke-linecap="butt"/>
<line x1="288.4" y1="235.5" x2="288.4" y2="242.3" stroke="#000" stroke-width="2.6" stroke-linecap="butt"/>
<line x1="344.7" y1="235.5" x2="344.7" y2="239.5" stroke="#000" stroke-width="2.6" stroke-linecap="butt"/>
<line x1="400.9" y1="235.5" x2="400.9" y2="242.3" stroke="#000" stroke-width="2.6" stroke-linecap="butt"/>
<line x1="457.1" y1="235.5" x2="457.1" y2="239.5" stroke="#000" stroke-width="2.6" stroke-linecap="butt"/>
<line x1="513.3" y1="235.5" x2="513.3" y2="242.3" stroke="#000" stroke-width="2.6" stroke-linecap="butt"/>
<line x1="569.5" y1="235.5" x2="569.5" y2="239.5" stroke="#000" stroke-width="2.6" stroke-linecap="butt"/>
<line x1="625.8" y1="235.5" x2="625.8" y2="242.3" stroke="#000" stroke-width="2.6" stroke-linecap="butt"/>
<line x1="682" y1="235.5" x2="682" y2="239.5" stroke="#000" stroke-width="2.6" stroke-linecap="butt"/>
<line x1="738.2" y1="235.5" x2="738.2" y2="242.3" stroke="#000" stroke-width="2.6" stroke-linecap="butt"/>
<line x1="232.2" y1="19.5" x2="232.2" y2="23.5" stroke="#000" stroke-width="2.6" stroke-linecap="butt"/>
<line x1="288.4" y1="19.5" x2="288.4" y2="26.3" stroke="#000" stroke-width="2.6" stroke-linecap="butt"/>
<line x1="344.7" y1="19.5" x2="344.7" y2="23.5" stroke="#000" stroke-width="2.6" stroke-linecap="butt"/>
<line x1="400.9" y1="19.5" x2="400.9" y2="26.3" stroke="#000" stroke-width="2.6" stroke-linecap="butt"/>
<line x1="457.1" y1="19.5" x2="457.1" y2="23.5" stroke="#000" stroke-width="2.6" stroke-linecap="butt"/>
<line x1="513.3" y1="19.5" x2="513.3" y2="26.3" stroke="#000" stroke-width="2.6" stroke-linecap="butt"/>
<line x1="569.5" y1="19.5" x2="569.5" y2="23.5" stroke="#000" stroke-width="2.6" stroke-linecap="butt"/>
<line x1="625.8" y1="19.5" x2="625.8" y2="26.3" stroke="#000" stroke-width="2.6" stroke-linecap="butt"/>
<line x1="682" y1="19.5" x2="682" y2="23.5" stroke="#000" stroke-width="2.6" stroke-linecap="butt"/>
<line x1="169.2" y1="235.5" x2="176" y2="235.5" stroke="#000" stroke-width="2.6" stroke-linecap="butt"/>
<line x1="172" y1="204.6" x2="176" y2="204.6" stroke="#000" stroke-width="2.6" stroke-linecap="butt"/>
<line x1="169.2" y1="173.8" x2="176" y2="173.8" stroke="#000" stroke-width="2.6" stroke-linecap="butt"/>
<line x1="172" y1="142.9" x2="176" y2="142.9" stroke="#000" stroke-width="2.6" stroke-linecap="butt"/>
<line x1="169.2" y1="112.1" x2="176" y2="112.1" stroke="#000" stroke-width="2.6" stroke-linecap="butt"/>
<line x1="172" y1="81.2" x2="176" y2="81.2" stroke="#000" stroke-width="2.6" stroke-linecap="butt"/>
<line x1="169.2" y1="50.4" x2="176" y2="50.4" stroke="#000" stroke-width="2.6" stroke-linecap="butt"/>
<line x1="172" y1="19.5" x2="176" y2="19.5" stroke="#000" stroke-width="2.6" stroke-linecap="butt"/>
<line x1="734.2" y1="204.6" x2="738.2" y2="204.6" stroke="#000" stroke-width="2.6" stroke-linecap="butt"/>
<line x1="731.4" y1="173.8" x2="738.2" y2="173.8" stroke="#000" stroke-width="2.6" stroke-linecap="butt"/>
<line x1="734.2" y1="142.9" x2="738.2" y2="142.9" stroke="#000" stroke-width="2.6" stroke-linecap="butt"/>
<line x1="731.4" y1="112.1" x2="738.2" y2="112.1" stroke="#000" stroke-width="2.6" stroke-linecap="butt"/>
<line x1="734.2" y1="81.2" x2="738.2" y2="81.2" stroke="#000" stroke-width="2.6" stroke-linecap="butt"/>
<line x1="731.4" y1="50.4" x2="738.2" y2="50.4" stroke="#000" stroke-width="2.6" stroke-linecap="butt"/>
<text x="176" y="272.7" font-size="35.5" text-anchor="middle">20</text>
<text x="288.4" y="272.7" font-size="35.5" text-anchor="middle">30</text>
<text x="400.9" y="272.7" font-size="35.5" text-anchor="middle">40</text>
<text x="513.3" y="272.7" font-size="35.5" text-anchor="middle">50</text>
<text x="625.8" y="272.7" font-size="35.5" text-anchor="middle">60</text>
<text x="738.2" y="272.7" font-size="35.5" text-anchor="middle">70</text>
<text x="165.3" y="246.4" font-size="35.5" text-anchor="end">0</text>
<text x="165.3" y="184.7" font-size="35.5" text-anchor="end">200</text>
<text x="165.3" y="123" font-size="35.5" text-anchor="end">400</text>
<text x="165.3" y="61.3" font-size="35.5" text-anchor="end">600</text>
<rect x="463.7" y="20.8" width="273.9" height="67.4" fill="#fff" stroke="#555" stroke-width="1"/>
<line x1="466.5" y1="40.7" x2="506.5" y2="40.7" stroke="#00a0ff" stroke-width="5" stroke-linecap="round"/>
<rect x="467" y="65" width="39.9" height="18.1" fill="#000"/>
<text x="511.5" y="46.9" font-size="26" text-anchor="start">AZO</text>
<text x="511.5" y="79.3" font-size="26" text-anchor="start">JCPDS: 00-036-1451</text>
<rect x="176" y="19.5" width="562.2" height="216" fill="none" stroke="#000" stroke-width="2.6"/>
<line x1="232.2" y1="278.4" x2="232.2" y2="493.8" stroke="#dcdcdc" stroke-width="1" stroke-linecap="butt"/>
<line x1="288.4" y1="278.4" x2="288.4" y2="493.8" stroke="#dcdcdc" stroke-width="1" stroke-linecap="butt"/>
<line x1="344.7" y1="278.4" x2="344.7" y2="493.8" stroke="#dcdcdc" stroke-width="1" stroke-linecap="butt"/>
<line x1="400.9" y1="278.4" x2="400.9" y2="493.8" stroke="#dcdcdc" stroke-width="1" stroke-linecap="butt"/>
<line x1="457.1" y1="278.4" x2="457.1" y2="493.8" stroke="#dcdcdc" stroke-width="1" stroke-linecap="butt"/>
<line x1="513.3" y1="278.4" x2="513.3" y2="493.8" stroke="#dcdcdc" stroke-width="1" stroke-linecap="butt"/>
<line x1="569.5" y1="278.4" x2="569.5" y2="493.8" stroke="#dcdcdc" stroke-width="1" stroke-linecap="butt"/>
<line x1="625.8" y1="278.4" x2="625.8" y2="493.8" stroke="#dcdcdc" stroke-width="1" stroke-linecap="butt"/>
<line x1="682" y1="278.4" x2="682" y2="493.8" stroke="#dcdcdc" stroke-width="1" stroke-linecap="butt"/>
<line x1="176" y1="463" x2="738.2" y2="463" stroke="#dcdcdc" stroke-width="1" stroke-linecap="butt"/>
<line x1="176" y1="432.3" x2="738.2" y2="432.3" stroke="#dcdcdc" stroke-width="1" stroke-linecap="butt"/>
<line x1="176" y1="401.5" x2="738.2" y2="401.5" stroke="#dcdcdc" stroke-width="1" stroke-linecap="butt"/>
<line x1="176" y1="370.7" x2="738.2" y2="370.7" stroke="#dcdcdc" stroke-width="1" stroke-linecap="butt"/>
<line x1="176" y1="339.9" x2="738.2" y2="339.9" stroke="#dcdcdc" stroke-width="1" stroke-linecap="butt"/>
<line x1="176" y1="309.2" x2="738.2" y2="309.2" stroke="#dcdcdc" stroke-width="1" stroke-linecap="butt"/>
<polyline points="177.3,410.1 177.6,404.7 177.9,399.7 178.2,404.6 178.5,403.3 178.8,407.1 179.1,404.2 179.4,403.4 179.7,404 180.1,405.6 180.4,410.8 180.7,402.6 181,404.8 181.3,410.9 181.6,402.3 181.9,398.5 182.2,407.3 182.5,413 182.8,405.9 183.1,412.1 183.4,403.6 183.7,403.2 184,400.9 184.3,399.4 184.6,405 185,401.1 185.3,404.5 185.6,396.2 185.9,396.9 186.2,401.6 186.5,401.5 186.8,402.8 187.1,400.8 187.4,395.9 187.7,401.5 188,406.9 188.3,404.6 188.7,402.7 189,413.8 189.3,402.6 189.6,397.7 189.9,401.3 190.2,401.2 190.5,386.2 190.9,403.1 191.2,399.3 191.5,405.8 191.8,402.8 192.1,405.4 192.4,404.4 192.7,398.6 193.1,409 193.4,405.8 193.7,399.2 194,409.6 194.3,401.9 194.6,407.6 194.9,407.1 195.2,405.4 195.5,408.4 195.8,405.6 196.1,405 196.4,402.9 196.8,405 197.1,413.2 197.4,412.1 197.7,412.1 198,413.7 198.3,403.5 198.6,409.3 198.9,411.9 199.2,405.6 199.5,406.6 199.8,414.8 200.1,411.8 200.4,411.3 200.7,406.1 201,412.2 201.3,407.6 201.6,405.1 201.9,412.9 202.3,411.5 202.6,406.6 202.9,411.8 203.2,414.2 203.5,408.9 203.8,413.8 204.1,422.9 204.4,410.5 204.7,413.2 205,410.2 205.3,411.3 205.6,422.7 205.9,411.3 206.3,413.9 206.6,411.8 206.9,424.8 207.2,418.2 207.5,418.2 207.8,419.6 208.1,414.7 208.4,416.7 208.8,413.2 209.1,416.3 209.4,423 209.7,419.6 210,412.9 210.3,416.6 210.6,416.6 210.9,403.7 211.2,418.2 211.5,420.3 211.8,419.3 212.1,421 212.4,418.8 212.7,415.4 213,418.1 213.3,424.5 213.7,426.6 214,428.2 214.3,419.2 214.6,414.7 214.9,418.1 215.2,421.1 215.5,425.1 215.8,421 216.1,433 216.4,424.2 216.7,423.8 217,423.8 217.3,427.7 217.6,423.2 217.9,427.6 218.2,428.2 218.5,433.2 218.8,425.3 219.1,432.2 219.4,422.1 219.7,432.5 220,428.6 220.3,428.8 220.6,424.9 220.9,416.6 221.2,428.8 221.5,426.1 221.8,431.3 222.1,425 222.4,434 222.7,429.8 223,425.5 223.3,425.3 223.6,422.7 223.9,436.4 224.2,431.3 224.5,435.8 224.8,427.4 225.1,434.7 225.4,436.3 225.7,427.9 226,431.9 226.3,432 226.6,430.5 226.9,428.9 227.2,430.6 227.5,428.9 227.8,426.4 228.1,431.5 228.4,432.8 228.7,437.2 229,435.2 229.3,430.3 229.6,435.1 229.9,438.7 230.2,436.7 230.5,438 230.8,441.5 231.1,438 231.4,438.5 231.7,433.6 232.1,438.4 232.4,437 232.7,440.3 233,435 233.3,439.6 233.6,435 233.9,444.1 234.2,438.5 234.5,443.1 234.8,448.1 235.1,445.4 235.4,439.8 235.7,448.1 236,438.1 236.3,441.6 236.6,442.8 236.9,450.3 237.2,443.8 237.5,440.7 237.8,448.4 238.1,438.8 238.4,447.9 238.8,439.3 239.1,439.1 239.4,437.8 239.7,442.1 240,443.9 240.3,443.8 240.6,442 240.9,439.4 241.2,437.2 241.5,435.6 241.8,440.4 242.1,441.3 242.4,446.4 242.7,445.1 243,446.6 243.3,443.7 243.6,448.9 243.9,447.2 244.3,447.9 244.6,437.7 244.9,444.2 245.2,445.1 245.5,445.8 245.8,444.8 246.1,447.9 246.4,450 246.7,446.2 247,445.9 247.3,446.9 247.6,453.6 247.9,451.7 248.3,442.9 248.6,447.2 248.9,453.5 249.2,450.3 249.5,448.9 249.8,448.9 250.1,450.8 250.4,454.9 250.7,451.3 251,457.1 251.3,453.7 251.7,449.5 252,451.1 252.3,452.4 252.6,456.1 252.9,456.8 253.2,455.6 253.5,457.6 253.8,458 254.2,458 254.5,456.5 254.8,457.9 255.1,452.4 255.4,453 255.7,451.5 256,449.7 256.3,447 256.6,454.5 257,461 257.3,454.7 257.6,451.8 257.9,457.4 258.2,459.7 258.5,455.1 258.8,453 259.1,457.7 259.4,460.4 259.8,455.7 260.1,460.3 260.4,453.8 260.7,455.8 261,456.9 261.3,458.7 261.6,447.9 261.9,458.4 262.3,461.4 262.6,452.5 262.9,460.1 263.2,456.4 263.5,458.6 263.8,456 264.1,460 264.4,456.9 264.7,459.9 265,455.6 265.3,457.2 265.6,452.4 265.9,456 266.2,458.9 266.5,455.3 266.8,455.7 267.1,458.4 267.4,448.9 267.7,458.1 268,450.9 268.3,456.3 268.6,458.2 268.9,452.7 269.2,454 269.5,460.6 269.8,459.8 270.1,458 270.4,452.8 270.7,448.9 271,460 271.3,460.9 271.6,462.2 271.9,457.4 272.2,455.5 272.5,455.7 272.8,458.1 273.1,461.6 273.4,463.8 273.7,456.6 274,455.8 274.3,461.4 274.6,459 274.9,457.6 275.2,461.6 275.5,460 275.8,458.9 276.1,457.8 276.5,454.4 276.8,457.9 277.1,461.1 277.4,457.9 277.7,460.4 278,457.2 278.3,451.5 278.6,454.8 278.9,462.8 279.2,463.6 279.5,458.2 279.8,462 280.1,456.5 280.4,463.6 280.7,467.3 281,461.3 281.3,458.5 281.6,458.8 281.9,458.4 282.2,462.8 282.5,460.2 282.9,466.6 283.2,458.9 283.5,459.7 283.8,458.2 284.1,459.1 284.4,461.8 284.7,459.9 285,462.6 285.3,461 285.6,466.6 285.9,462.8 286.2,461.7 286.5,452.8 286.8,452.8 287.1,452.9 287.4,460.4 287.7,464.4 288,463.2 288.3,461 288.6,463.5 288.9,461.7 289.2,460.6 289.5,464.9 289.8,463.7 290.1,463.2 290.4,462 290.7,462.2 291,460.9 291.3,465.9 291.6,465.5 291.9,456.2 292.2,464.8 292.5,459.1 292.8,463.1 293.1,460.3 293.4,463.9 293.7,463.6 294,465.5 294.3,464.6 294.6,463 294.9,467.8 295.2,461.3 295.5,466.3 295.8,463.3 296.1,466.1 296.4,461.8 296.7,468 297,464.9 297.3,469.8 297.6,455.7 297.9,456.2 298.2,467.1 298.5,464.4 298.8,467 299.1,462.6 299.4,465.5 299.7,471.1 300,470.7 300.3,470.5 300.6,466.6 300.9,467.5 301.2,469.2 301.5,466.6 301.8,467.7 302.1,464.6 302.4,463.2 302.7,471.3 303,466.8 303.3,470.7 303.6,466.6 303.9,468.6 304.2,462.1 304.5,467 304.8,463.3 305.1,468 305.4,466.8 305.7,462.8 306,473 306.3,472.8 306.6,470 306.9,467 307.2,467.6 307.5,465 307.8,464.3 308.1,467.1 308.4,466.1 308.7,468.8 309,463.2 309.3,466 309.6,471.3 309.9,467.9 310.2,469.4 310.5,464.3 310.8,466.3 311.1,466.4 311.4,465.1 311.7,470.1 312,466 312.3,465.1 312.6,467.4 312.9,468.1 313.2,471 313.5,464.5 313.8,465.6 314.1,465.6 314.4,469.1 314.7,472.7 315,465.7 315.3,468.8 315.6,467.5 315.9,466.1 316.2,468.6 316.5,460.8 316.8,456.3 317.1,470.7 317.4,470.8 317.7,469.4 318,468.3 318.3,466.9 318.6,473.3 318.9,470.1 319.2,470.2 319.5,469.3 319.8,465.7 320.1,472.2 320.4,466.7 320.7,465.9 321,470.4 321.3,466.9 321.6,471.3 321.9,468.4 322.2,472 322.5,468.4 322.8,467.3 323.1,470.9 323.4,470 323.7,469.5 324,468.8 324.3,467.7 324.6,469 324.9,466 325.2,467.2 325.5,466.2 325.8,465.4 326.1,469.6 326.4,467.9 326.7,470.8 327,468.6 327.3,467.8 327.6,472.6 327.9,472.5 328.2,472.8 328.5,464.8 328.8,466.2 329.1,473.6 329.4,467.9 329.7,469.6 330,457.9 330.3,457.7 330.6,463.6 330.9,467.6 331.2,466.5 331.5,468 331.8,468 332.1,471.5 332.4,463.8 332.7,463.2 333,469.9 333.3,466 333.6,467.3 333.9,465.3 334.3,467.3 334.6,468.8 334.9,466.9 335.2,467.5 335.5,466.5 335.8,466.4 336.1,466.3 336.4,470.5 336.7,474 337,471.3 337.3,470.9 337.6,471.3 337.9,473 338.2,468.1 338.5,470.2 338.8,468.1 339.1,463.7 339.4,473.1 339.8,472.9 340.1,466.8 340.4,467.4 340.7,470.5 341,471.3 341.3,468.6 341.6,465.6 341.9,472.4 342.2,466.3 342.5,470.6 342.8,467.9 343.1,472.7 343.4,471.5 343.7,467.6 344,466 344.3,468.6 344.6,468 344.9,467.3 345.2,467.1 345.5,464 345.8,474.1 346.1,471.1 346.4,470.7 346.7,465 347.1,466.9 347.4,466.2 347.7,466.7 348,466.9 348.3,463.8 348.6,466.6 348.9,467 349.2,464.1 349.5,465.2 349.8,465.7 350.1,462.8 350.4,466.7 350.7,466.5 351,467.4 351.3,467.2 351.6,462.6 351.9,464.2 352.2,465.5 352.6,465.1 352.9,472.5 353.2,471.7 353.6,461.9 353.9,461.5 354.2,459.4 354.5,460.7 354.9,460.6 355.2,459.9 355.5,456 355.5,458 357.6,446 359.1,431 360.1,426.5 361.1,431 362.3,448 363.4,465 364.5,469 364.5,474.5 364.8,471.4 365.1,468.7 365.4,470.6 365.8,465.7 366.1,472.2 366.4,471.4 366.7,470.6 367,473.4 367.3,473 367.6,476.5 368,472.6 368.3,471.6 368.6,472.5 368.9,476.2 369.2,475.6 369.5,477.6 369.8,471.1 370.1,473.9 370.4,478 370.7,475.8 371,477.5 371.3,477.2 371.6,477.8 371.9,476.2 372.2,475 372.5,475.4 372.8,474.6 373.1,474.9 373.4,473.4 373.7,478.2 374,478.2 374.3,476.4 374.6,476.4 374.9,472.8 375.2,476.8 375.5,478.3 375.8,476.1 376.1,473.1 376.4,479.2 376.7,476.6 377,475 377.3,475.6 377.6,474.6 377.9,479.9 378.2,475.2 378.5,476.2 378.8,475.7 379.1,476.2 379.4,477.9 379.7,474.8 380,476.7 380.3,476.5 380.6,480.2 380.9,475.9 381.2,476.7 381.5,474.7 381.8,476 382.1,475.1 382.4,479.9 382.7,476.9 383,476.8 383.3,478 383.6,477.2 383.9,477.2 384.2,479.9 384.5,472.8 384.8,476.4 385.1,474.8 385.4,475.6 385.7,478.6 386,480.2 386.3,471.7 386.6,471.6 386.9,479 387.2,478.3 387.5,475 387.8,473.4 388.1,477 388.4,476 388.7,477.6 389,483.9 389.3,479.5 389.6,477 389.9,474.4 390.2,475.1 390.5,476.5 390.8,476.6 391.1,472.1 391.4,472.1 391.7,478.1 392,477.7 392.3,474.9 392.7,478.4 393,476.5 393.3,473.6 393.6,477.4 393.9,476.1 394.2,481.5 394.5,477.2 394.8,478.3 395.1,476.1 395.4,479 395.7,476.9 396,472.9 396.3,479.4 396.6,478.7 396.9,476.3 397.2,475.1 397.5,478.4 397.8,476.6 398.1,475.7 398.4,475.7 398.7,475.8 399,480 399.3,473.3 399.6,477.8 399.9,479.1 400.2,476.4 400.5,476.6 400.8,479.5 401.1,474.2 401.4,484.4 401.7,484.3 402,476.8 402.3,478.4 402.6,481.2 402.9,478.8 403.2,478.6 403.5,477.8 403.8,476.4 404.1,477.1 404.4,477.9 404.7,481.6 405,480.5 405.3,484.8 405.6,484.8 405.9,484.8 406.2,479.2 406.5,476.9 406.8,478.8 407.1,478.4 407.4,482 407.7,479.1 408,478.6 408.3,480.9 408.6,476.1 408.9,479.5 409.2,478.9 409.5,482.7 409.8,478.3 410.1,477.1 410.4,477.5 410.7,474.3 411,477.9 411.3,477.2 411.6,477.7 411.9,476.9 412.2,477.2 412.5,475.4 412.8,485.7 413.1,485.7 413.4,485.7 413.7,477.5 414,473 414.3,477.1 414.6,476.5 414.9,478.6 415.2,476.7 415.5,478 415.8,480.1 416.1,477.8 416.4,477.3 416.7,480.4 417,476.2 417.3,478 417.6,477.1 417.9,474.6 418.2,480.3 418.5,475.9 418.8,474.6 419.1,473.8 419.4,479.5 419.7,476.1 420,479.6 420.3,476.2 420.6,475.9 420.9,477.9 421.2,477.7 421.5,477.1 421.8,477.4 422.1,480.1 422.4,479.2 422.7,479.1 423,475.6 423.3,480.5 423.6,481 423.9,474.8 424.2,477.6 424.5,478.4 424.8,475.9 425.1,476.3 425.4,477.2 425.7,476.5 426,480.3 426.3,475.6 426.6,476.8 426.9,475.7 427.2,477.6 427.5,477.6 427.8,475.4 428.1,477.8 428.4,479.1 428.7,478.6 429,473.8 429.3,479.6 429.6,476 429.9,474.4 430.2,476.5 430.5,473.9 430.8,478.3 431.1,477.8 431.4,478.5 431.7,482.8 432,474.8 432.3,478.5 432.6,474.4 432.9,474.9 433.2,479 433.5,478.6 433.8,476.9 434.1,473.9 434.4,476 434.7,478.1 435,476.5 435.3,480.4 435.6,479.7 435.9,476.9 436.2,479.3 436.5,477.6 436.8,477.7 437.1,476.1 437.4,478.7 437.7,476.2 438,477.2 438.3,480.4 438.6,474.3 438.9,474.9 439.2,475.5 439.5,478.5 439.8,476.2 440.1,481.1 440.4,476.1 440.7,477.5 441,479 441.3,476.2 441.6,476.5 441.9,473.8 442.2,478.3 442.5,477.8 442.8,468.8 443.1,468.9 443.4,469 443.7,478.1 444,474.8 444.3,476.1 444.6,474.5 444.9,474.5 445.2,478.5 445.5,479.3 445.8,484.6 446.1,484.5 446.4,484.4 446.7,478.5 447,476.4 447.3,477.6 447.6,480.9 447.9,482.7 448.2,482 448.5,475.2 448.8,477.9 449.1,478 449.4,478.7 449.7,477 450,471.5 450.3,471.5 450.6,475.9 450.9,477.3 451.2,474.8 451.5,481.1 451.8,475.7 452.1,477.7 452.4,478.4 452.7,476.5 453,479.5 453.3,479.6 453.6,476.9 453.9,476.5 454.2,472.1 454.5,472.2 454.8,472 455.1,479.7 455.4,476.3 455.7,478 456,474.6 456.3,478.3 456.6,485.2 456.9,478.4 457.2,480.9 457.5,478.7 457.8,480.3 458.1,479.3 458.4,478.5 458.7,478.4 459,479 459.3,478.7 459.6,480.9 459.9,477.9 460.2,477 460.5,482 460.8,479 461.1,473.7 461.4,480.3 461.7,476.7 462,477.2 462.3,476.3 462.7,481.8 463,477.3 463.3,481.3 463.6,482.3 463.9,476.1 464.2,479.3 464.5,473.7 464.8,478.7 465.1,477.1 465.4,479.9 465.7,479.5 466,482.4 466.3,479.1 466.6,478.1 466.9,476.5 467.2,479 467.5,478.9 467.8,477.2 468.1,477 468.4,478.9 468.7,478.9 469,479.8 469.3,479 469.6,477.7 469.9,477.4 470.2,480.7 470.5,480.5 470.8,477.6 471.1,481.9 471.4,479.5 471.7,478.8 472,477.5 472.3,479.5 472.6,480.9 472.9,477.6 473.2,479.5 473.5,481.7 473.8,479 474.1,475.8 474.4,472.6 474.7,472.5 475,472.6 475.3,478.5 475.6,482.5 475.9,478.4 476.2,478.2 476.5,480.6 476.8,475.5 477.1,477.1 477.4,477.2 477.7,482 478,476.6 478.3,480.2 478.6,477.7 478.9,480.1 479.2,477 479.5,479.3 479.8,479.2 480.1,480.2 480.4,480.6 480.7,478.2 481,473.1 481.3,473.3 481.6,476.8 481.9,477.8 482.2,483.4 482.5,482.2 482.8,479.7 483.1,479.5 483.4,476.6 483.7,481.9 484,472.5 484.3,480.8 484.6,478.9 484.9,479.4 485.2,477.3 485.5,479.8 485.8,481.5 486.1,478.4 486.4,479 486.7,478.8 487,477 487.3,479.4 487.7,478.5 488,478.4 488.3,479.5 488.6,478.8 488.9,478.5 489.2,478.2 489.5,480.8 489.8,476.6 490.1,480.3 490.4,477.3 490.7,479.6 491,482.7 491.3,481.8 491.6,476.6 491.9,478.5 492.2,477.9 492.5,477.8 492.8,480 493.1,479 493.4,476.3 493.7,480.1 494,479.5 494.3,475.4 494.6,479 494.9,476.7 495.2,479.8 495.5,478.3 495.8,479 496.1,481.4 496.4,474.4 496.7,474.7 497,481.5 497.3,478.6 497.6,474.2 497.9,475.4 498.2,479.4 498.5,478.6 498.8,479.4 499.1,481.9 499.4,476.9 499.7,478.6 500,480.3 500.3,478.8 500.6,479.5 500.9,481.8 501.2,475.6 501.5,476.3 501.8,480.5 502.1,481.4 502.4,480.9 502.7,479.4 503,479.2 503.3,476 503.6,478.2 503.9,479.7 504.2,481.3 504.5,479.3 504.8,476.3 505.1,476.8 505.4,478.4 505.7,479.2 506,477.3 506.3,479 506.6,477.7 506.9,479.5 507.2,478.5 507.5,478.6 507.8,480.2 508.1,481.7 508.4,481.9 508.7,477.3 509,478.2 509.3,478 509.6,479.4 509.9,476.7 510.2,474.9 510.5,477.5 510.8,477.3 511.1,479.5 511.4,476.3 511.7,478.4 512,478.5 512.3,482.5 512.6,481.4 512.9,481.7 513.2,478.3 513.5,481.6 513.8,480.1 514.1,482.3 514.4,479.2 514.8,481.5 515.1,483.5 515.4,479.5 515.7,478.6 516,480.9 516.3,479 516.6,478.7 516.9,481.9 517.2,479 517.5,480.5 517.8,479.7 518.1,484.1 518.4,481.2 518.7,478.9 519,478 519.3,482.8 519.6,481.2 519.9,477.3 520.2,481.2 520.5,476.8 520.8,477.4 521.1,487.4 521.4,487.4 521.7,477.3 522,480 522.3,477.9 522.6,480.4 522.9,477.1 523.2,481.1 523.5,483.8 523.8,483.9 524.1,474.7 524.4,480.2 524.7,481 525,483 525.3,481.7 525.6,478 525.9,478.8 526.2,480.6 526.5,478.9 526.8,482.7 527.1,479.1 527.4,481.2 527.7,478.6 528,481.7 528.3,479.4 528.6,477.6 528.9,479 529.2,479 529.5,476.1 529.8,480.5 530.1,479.6 530.4,484 530.7,482.4 531,480.3 531.3,481.5 531.6,484.3 531.9,482.6 532.2,483.1 532.5,477.8 532.8,479.3 533.1,482.9 533.4,477.7 533.7,479.6 534,481.5 534.3,477.1 534.6,476.3 534.9,478.9 535.2,482.1 535.5,482.5 535.8,484.5 536.1,481.5 536.4,478.3 536.7,478.8 537,483.8 537.3,484.4 537.6,481.9 537.9,482.5 538.2,482.2 538.5,480.6 538.8,479.2 539.1,487.8 539.4,479 539.7,479.2 540,482.3 540.3,479.8 540.6,480.9 540.9,483.1 541.2,481.9 541.5,482.8 541.8,478.1 542.1,485.6 542.4,483 542.7,481.6 543,479.3 543.3,483.7 543.6,478.7 543.9,476.3 544.2,480.6 544.6,478.6 544.9,479.4 545.2,480.4 545.5,480.9 545.8,479 546.1,479.9 546.4,479.2 546.7,475.7 547,479.9 547.3,481.8 547.6,480 547.9,480.7 548.2,481.4 548.5,476.6 548.8,481.7 549.1,483.5 549.4,482.9 549.7,479 550,482.4 550.3,478.7 550.6,478.9 550.9,476.8 551.2,482.3 551.5,478.6 551.8,482.3 552.1,486.7 552.4,476.3 552.7,481.6 553,483.1 553.3,478.8 553.6,480.6 553.9,481.5 554.2,481.6 554.5,481.9 554.8,479.1 555.1,480.9 555.4,482 555.7,479.3 556,480.3 556.3,480.9 556.6,479.8 556.9,482.9 557.2,480.9 557.5,483.3 557.8,477.4 558.1,478.3 558.4,480.6 558.7,479.6 559,479.4 559.3,480.4 559.6,482.6 559.9,484.5 560.2,479.3 560.5,476.5 560.8,479.6 561.1,480.7 561.4,478.3 561.7,484.4 562,476.7 562.3,480.8 562.6,479.2 562.9,481.4 563.2,478.4 563.5,474.7 563.8,474.6 564.1,483.4 564.4,479.7 564.7,482.3 565,478.9 565.3,480.3 565.6,484 565.9,482.7 566.2,477.7 566.5,484 566.8,482.5 567.1,480.7 567.4,478.7 567.7,479.4 568,481.3 568.3,480.6 568.6,482.4 568.9,482.1 569.2,482.7 569.6,483.1 569.9,480.2 570.2,477.1 570.5,480.6 570.8,482 571.1,482.9 571.4,484.7 571.7,482.2 572,482.5 572.3,480 572.6,480.6 572.9,481.2 573.2,480.8 573.5,479.8 573.8,477.9 574.1,481.5 574.4,481.3 574.7,478.4 575,480.7 575.3,484.3 575.6,480.4 575.9,481.7 576.2,483.7 576.5,483.3 576.8,481.8 577.1,485.5 577.4,481.3 577.7,480 578,479.6 578.3,482.4 578.6,478.8 578.9,483.2 579.2,480.2 579.5,479.6 579.8,481.7 580.1,487.2 580.4,483.8 580.7,482.9 581,479.7 581.3,482.6 581.6,480.1 581.9,481.8 582.2,485.8 582.5,479.3 582.8,481.4 583.1,485.6 583.4,477.9 583.7,478.5 584,479.2 584.3,476.3 584.6,476.3 584.9,479.7 585.2,480.8 585.5,479.6 585.8,480.7 586.1,479.6 586.4,480.1 586.7,482 587,482.4 587.3,480.9 587.6,486.1 587.9,482.1 588.2,481.8 588.5,482.2 588.8,482.7 589.1,483.4 589.4,481.8 589.8,477.8 590.1,479.1 590.4,480.4 590.7,482.5 591,481 591.3,482.3 591.6,484.8 591.9,484.5 592.2,483 592.5,481.4 592.8,481.5 593.1,481.8 593.4,480.7 593.7,477.4 594,479.5 594.3,483 594.6,483.4 594.9,477.6 595.2,479.7 595.5,478 595.8,482.5 596.1,478.9 596.4,482 596.7,481.1 597,481.9 597.3,477.3 597.6,481.2 597.9,481.6 598.2,479.5 598.5,481.9 598.8,480.9 599.1,481.1 599.4,481.9 599.7,480.4 600,479.9 600.3,479.7 600.6,483.2 600.9,477.5 601.2,484.2 601.5,479.6 601.8,480.1 602.1,482.5 602.4,479.9 602.7,482.4 603,481.6 603.3,485.6 603.6,482.3 603.9,484.9 604.2,480.8 604.5,481.8 604.8,478.5 605.1,480.8 605.4,481.8 605.7,477.8 606,482.8 606.3,481.9 606.6,480.6 606.9,480.8 607.2,481.8 607.5,478 607.8,478.3 608.1,474.6 608.4,480.8 608.7,482.5 609,481.5 609.3,482.6 609.6,482.6 609.9,479.6 610.2,481.9 610.5,484.8 610.8,479.6 611.1,479.5 611.4,482.8 611.7,479.2 612,482.1 612.3,483.8 612.7,479.9 613,483 613.3,484.5 613.6,481.5 613.9,482.4 614.2,478.9 614.5,479.9 614.8,479.6 615.1,485.2 615.4,479.5 615.7,482.5 616,485.1 616.3,483.3 616.6,484.8 616.9,482.2 617.2,478.8 617.5,483 617.8,481.9 618.1,481.6 618.4,483.1 618.7,483.3 619,480.3 619.3,481.4 619.6,480.9 619.9,484.7 620.2,481.5 620.5,481.9 620.8,484.9 621.1,482.8 621.4,479.1 621.7,484.8 622,484 622.3,485 622.6,485.1 622.9,480 623.2,480 623.5,481.2 623.8,480.6 624.1,478.9 624.4,482.4 624.7,478.2 625,481.8 625.3,482.6 625.6,479.1 625.9,479.1 626.2,481.6 626.5,479.5 626.8,484.5 627.1,483.2 627.4,482.4 627.7,480.7 628,484.7 628.3,480.2 628.6,481.4 628.9,483.1 629.2,482.6 629.5,479.2 629.8,479.8 630.1,482.6 630.4,479.5 630.7,481.1 631,481.6 631.3,480.1 631.6,478.7 631.9,480.9 632.2,481.3 632.5,481.1 632.8,482.4 633.1,480.8 633.4,488.4 633.7,488.6 634,480.8 634.3,481.6 634.6,484.3 634.9,480.3 635.2,479.8 635.5,480.9 635.8,479.7 636.1,479.8 636.4,479.1 636.7,477.2 637,482.7 637.3,482 637.7,481.9 638,481.9 638.3,481.5 638.6,480 638.9,482.7 639.2,477.6 639.5,480.4 639.8,481.5 640.1,481.8 640.4,485.2 640.7,480.8 641,479.6 641.3,482.2 641.6,480 641.9,480.5 642.2,479.4 642.5,477.6 642.8,479.1 643.1,476 643.4,482.6 643.7,479.5 644,480.1 644.3,475.6 644.6,478.6 644.9,488.2 645.2,488.2 645.5,488.2 645.8,482.5 646.1,483 646.4,481.2 646.7,482.3 647,487.4 647.3,479.5 647.6,482.1 647.9,479.4 648.2,479.7 648.5,483.4 648.8,480.1 649.1,478 649.4,482.3 649.7,481.1 650,481.5 650.3,481.2 650.6,477.1 650.9,480 651.2,477.8 651.5,480.7 651.8,479.4 652.1,479.2 652.4,481.8 652.7,477.7 653,481.6 653.3,480.8 653.6,482.3 653.9,481.9 654.2,477.7 654.5,481.1 654.8,482.8 655.1,480.5 655.4,481.3 655.7,480.5 656,482.1 656.3,482.4 656.6,481.1 656.9,480.7 657.2,478.3 657.5,483 657.8,481.1 658.1,482.5 658.4,480.9 658.7,482.8 659,482.4 659.3,475.8 659.6,481.6 659.9,482.1 660.2,482.1 660.5,480.9 660.8,478.5 661.1,479.4 661.4,482.3 661.7,481.9 662,481.9 662.3,480.7 662.7,479.9 663,478.1 663.3,477.6 663.6,483 663.9,481.1 664.2,480.6 664.5,483.6 664.8,481.1 665.1,476.7 665.4,479 665.7,482 666,476.8 666.3,482.9 666.6,482.6 666.9,480.3 667.2,481.7 667.5,479.6 667.8,479.7 668.1,476.1 668.4,481.7 668.7,476.9 669,479.3 669.3,481.4 669.6,488.6 669.9,479.3 670.2,477.9 670.5,479.4 670.8,478.8 671.1,477.5 671.4,481.7 671.7,483.7 672,479.5 672.3,484.7 672.6,479.8 672.9,481.5 673.2,479.5 673.5,479.6 673.8,478 674.1,483.1 674.4,479.8 674.7,482.7 675,480.9 675.3,480.2 675.6,480.2 675.9,477.6 676.2,479.9 676.5,482.1 676.8,479.8 677.1,485.9 677.4,480.8 677.7,484.2 678,473.5 678.3,473.4 678.6,483.2 678.9,483.7 679.2,476.9 679.5,485.6 679.8,483.1 680.1,480.4 680.4,478.9 680.7,479.9 681,481.2 681.3,480.2 681.6,479.1 681.9,473.6 682.2,473.5 682.5,480 682.8,479 683.1,483 683.4,474.7 683.7,474.7 684,478.8 684.3,485.1 684.6,485.1 684.9,481 685.2,481.5 685.5,474.5 685.8,474.5 686.1,481 686.4,481.4 686.7,477.3 687,480.7 687.3,483.9 687.7,479.8 688,482.2 688.3,484.8 688.6,481.7 688.9,483.6 689.2,482.4 689.5,479.9 689.8,483.3 690.1,479.4 690.4,483.2 690.7,483.5 691,481.7 691.3,478.7 691.6,486.7 691.9,486.7 692.2,483 692.5,480.1 692.8,483.2 693.1,475.6 693.4,479 693.7,481.3 694,478.9 694.3,480.5 694.6,478.1 694.9,487.1 695.2,479.1 695.5,481.9 695.8,483.6 696.1,482.1 696.4,481.6 696.7,482.7 697,481.8 697.3,481.2 697.6,485.4 697.9,475 698.2,475.2 698.5,475.1 698.8,483.3 699.1,482.5 699.4,479.9 699.7,485.9 700,483.6 700.3,480.5 700.6,478.1 700.9,479.9 701.2,480.6 701.5,483.8 701.8,481.3 702.1,480.7 702.4,482.2 702.7,482.1 703,483.8 703.3,481.6 703.6,482 703.9,483.6 704.2,481.6 704.5,482.3 704.8,479.3 705.1,477.8 705.4,482 705.7,480.9 706,483.1 706.3,488.6 706.6,479.8 706.9,483.2 707.2,484.7 707.5,484.1 707.8,482.4 708.1,482 708.4,481.2 708.7,479.7 709,482.8 709.3,480.8 709.6,484.7 709.9,482.4 710.2,481.5 710.5,482.4 710.8,484.9 711.1,482.7 711.4,481.2 711.7,480.1 712,481.2 712.3,484.6 712.6,481.5 712.9,481.3 713.2,482.3 713.5,481.7 713.8,484.7 714.1,481.8 714.4,480.6 714.7,482.3 715,481.3 715.3,482.2 715.6,483.9 715.9,483 716.2,480.8 716.5,479.3 716.8,480.3 717.1,483.2 717.4,483.6 717.7,480.3 718,481.4 718.3,482.5 718.7,480.2 719,480.5 719.3,481.1 719.6,482.7 719.9,479.1 720.2,479 720.5,482.3 720.8,484.1 721.1,484.2 721.4,482.3 721.7,483.6 722,484.2 722.3,481.4 722.6,484.7 722.9,480 723.2,484.1 723.5,485.5 723.8,484.7 724.1,479.5 724.4,480.6 724.7,479.6 725,480.7 725.3,479.7 725.6,480.1 725.9,485.4 726.2,482.6 726.5,484.5 726.8,480.5 727.1,480.4 727.4,480.7 727.7,484.6 728,483.2 728.3,478.9 728.6,481.9 728.9,482.1 729.2,483.2 729.5,476.1 729.8,475.9 730.1,483.7 730.4,483.2 730.7,482.9 731,482.3 731.3,482.4 731.6,473.9 731.9,474 732.2,474.1 732.5,479.7 732.8,481.6 733.1,486.8 733.4,479.1 733.7,480.4 734,483 734.3,480 734.6,480.8 734.9,480.3 735.2,481.1 735.5,482.1 735.8,480.2 736.1,479.3 736.4,483.8 736.7,482.4 737,484.5" fill="none" stroke="#ff0000" stroke-width="4.8" stroke-linejoin="round" stroke-linecap="round"/>
<rect x="300.2" y="484.6" width="7.3" height="9.2" fill="#000"/>
<rect x="357.2" y="464.1" width="7.6" height="29.7" fill="#000"/>
<rect x="407" y="483.4" width="7.7" height="10.4" fill="#000"/>
<rect x="576" y="486.3" width="7.6" height="7.5" fill="#000"/>
<rect x="649.9" y="488.7" width="6.9" height="5.1" fill="#000"/>
<rect x="684.2" y="489" width="7.3" height="4.8" fill="#000"/>
<rect x="176" y="278.4" width="562.2" height="215.4" fill="none" stroke="#000" stroke-width="2.6"/>
<line x1="176" y1="493.8" x2="176" y2="500.6" stroke="#000" stroke-width="2.6" stroke-linecap="butt"/>
<line x1="232.2" y1="493.8" x2="232.2" y2="497.8" stroke="#000" stroke-width="2.6" stroke-linecap="butt"/>
<line x1="288.4" y1="493.8" x2="288.4" y2="500.6" stroke="#000" stroke-width="2.6" stroke-linecap="butt"/>
<line x1="344.7" y1="493.8" x2="344.7" y2="497.8" stroke="#000" stroke-width="2.6" stroke-linecap="butt"/>
<line x1="400.9" y1="493.8" x2="400.9" y2="500.6" stroke="#000" stroke-width="2.6" stroke-linecap="butt"/>
<line x1="457.1" y1="493.8" x2="457.1" y2="497.8" stroke="#000" stroke-width="2.6" stroke-linecap="butt"/>
<line x1="513.3" y1="493.8" x2="513.3" y2="500.6" stroke="#000" stroke-width="2.6" stroke-linecap="butt"/>
<line x1="569.5" y1="493.8" x2="569.5" y2="497.8" stroke="#000" stroke-width="2.6" stroke-linecap="butt"/>
<line x1="625.8" y1="493.8" x2="625.8" y2="500.6" stroke="#000" stroke-width="2.6" stroke-linecap="butt"/>
<line x1="682" y1="493.8" x2="682" y2="497.8" stroke="#000" stroke-width="2.6" stroke-linecap="butt"/>
<line x1="738.2" y1="493.8" x2="738.2" y2="500.6" stroke="#000" stroke-width="2.6" stroke-linecap="butt"/>
<line x1="232.2" y1="278.4" x2="232.2" y2="282.4" stroke="#000" stroke-width="2.6" stroke-linecap="butt"/>
<line x1="288.4" y1="278.4" x2="288.4" y2="285.2" stroke="#000" stroke-width="2.6" stroke-linecap="butt"/>
<line x1="344.7" y1="278.4" x2="344.7" y2="282.4" stroke="#000" stroke-width="2.6" stroke-linecap="butt"/>
<line x1="400.9" y1="278.4" x2="400.9" y2="285.2" stroke="#000" stroke-width="2.6" stroke-linecap="butt"/>
<line x1="457.1" y1="278.4" x2="457.1" y2="282.4" stroke="#000" stroke-width="2.6" stroke-linecap="butt"/>
<line x1="513.3" y1="278.4" x2="513.3" y2="285.2" stroke="#000" stroke-width="2.6" stroke-linecap="butt"/>
<line x1="569.5" y1="278.4" x2="569.5" y2="282.4" stroke="#000" stroke-width="2.6" stroke-linecap="butt"/>
<line x1="625.8" y1="278.4" x2="625.8" y2="285.2" stroke="#000" stroke-width="2.6" stroke-linecap="butt"/>
<line x1="682" y1="278.4" x2="682" y2="282.4" stroke="#000" stroke-width="2.6" stroke-linecap="butt"/>
<line x1="169.2" y1="493.8" x2="176" y2="493.8" stroke="#000" stroke-width="2.6" stroke-linecap="butt"/>
<line x1="172" y1="463" x2="176" y2="463" stroke="#000" stroke-width="2.6" stroke-linecap="butt"/>
<line x1="169.2" y1="432.3" x2="176" y2="432.3" stroke="#000" stroke-width="2.6" stroke-linecap="butt"/>
<line x1="172" y1="401.5" x2="176" y2="401.5" stroke="#000" stroke-width="2.6" stroke-linecap="butt"/>
<line x1="169.2" y1="370.7" x2="176" y2="370.7" stroke="#000" stroke-width="2.6" stroke-linecap="butt"/>
<line x1="172" y1="339.9" x2="176" y2="339.9" stroke="#000" stroke-width="2.6" stroke-linecap="butt"/>
<line x1="169.2" y1="309.2" x2="176" y2="309.2" stroke="#000" stroke-width="2.6" stroke-linecap="butt"/>
<line x1="172" y1="278.4" x2="176" y2="278.4" stroke="#000" stroke-width="2.6" stroke-linecap="butt"/>
<line x1="734.2" y1="463" x2="738.2" y2="463" stroke="#000" stroke-width="2.6" stroke-linecap="butt"/>
<line x1="731.4" y1="432.3" x2="738.2" y2="432.3" stroke="#000" stroke-width="2.6" stroke-linecap="butt"/>
<line x1="734.2" y1="401.5" x2="738.2" y2="401.5" stroke="#000" stroke-width="2.6" stroke-linecap="butt"/>
<line x1="731.4" y1="370.7" x2="738.2" y2="370.7" stroke="#000" stroke-width="2.6" stroke-linecap="butt"/>
<line x1="734.2" y1="339.9" x2="738.2" y2="339.9" stroke="#000" stroke-width="2.6" stroke-linecap="butt"/>
<line x1="731.4" y1="309.2" x2="738.2" y2="309.2" stroke="#000" stroke-width="2.6" stroke-linecap="butt"/>
<text x="176" y="531" font-size="35.5" text-anchor="middle">20</text>
<text x="288.4" y="531" font-size="35.5" text-anchor="middle">30</text>
<text x="400.9" y="531" font-size="35.5" text-anchor="middle">40</text>
<text x="513.3" y="531" font-size="35.5" text-anchor="middle">50</text>
<text x="625.8" y="531" font-size="35.5" text-anchor="middle">60</text>
<text x="738.2" y="531" font-size="35.5" text-anchor="middle">70</text>
<text x="165.3" y="504.7" font-size="35.5" text-anchor="end">0</text>
<text x="165.3" y="443.2" font-size="35.5" text-anchor="end">200</text>
<text x="165.3" y="381.6" font-size="35.5" text-anchor="end">400</text>
<text x="165.3" y="320.1" font-size="35.5" text-anchor="end">600</text>
<rect x="469.5" y="279.6" width="268.3" height="73.4" fill="#fff" stroke="#555" stroke-width="1"/>
<line x1="470.5" y1="299.9" x2="506.3" y2="299.9" stroke="#ff0000" stroke-width="5" stroke-linecap="round"/>
<rect x="472.4" y="332.1" width="32.9" height="15.2" fill="#000"/>
<text x="512" y="305.4" font-size="26" text-anchor="start">CuCrO<tspan font-size="17" dy="8.6">2</tspan></text>
<text x="512" y="344.4" font-size="26" text-anchor="start">JCPDS: 01-089-0539</text>
<rect x="176" y="278.4" width="562.2" height="215.4" fill="none" stroke="#000" stroke-width="2.6"/>
<text x="99.5" y="129.5" font-size="37" text-anchor="middle" font-weight="bold" transform="rotate(-90 99.5 129.5)">Intensity (a. u.)</text>
<text x="94.7" y="398.6" font-size="37" text-anchor="middle" font-weight="bold" transform="rotate(-90 94.7 398.6)">Intensity (a. u.)</text>
<text x="457.5" y="569.8" font-size="30.5" text-anchor="middle" font-weight="bold">2θ (degree)</text>
<text x="1" y="60" font-size="55" text-anchor="start" font-weight="bold">(a)</text>
<line x1="993.7" y1="17.3" x2="993.7" y2="232.7" stroke="#dcdcdc" stroke-width="1" stroke-linecap="butt"/>
<line x1="1080.3" y1="17.3" x2="1080.3" y2="232.7" stroke="#dcdcdc" stroke-width="1" stroke-linecap="butt"/>
<line x1="1167" y1="17.3" x2="1167" y2="232.7" stroke="#dcdcdc" stroke-width="1" stroke-linecap="butt"/>
<line x1="1253.6" y1="17.3" x2="1253.6" y2="232.7" stroke="#dcdcdc" stroke-width="1" stroke-linecap="butt"/>
<line x1="1340.3" y1="17.3" x2="1340.3" y2="232.7" stroke="#dcdcdc" stroke-width="1" stroke-linecap="butt"/>
<line x1="1427" y1="17.3" x2="1427" y2="232.7" stroke="#dcdcdc" stroke-width="1" stroke-linecap="butt"/>
<line x1="907" y1="214.8" x2="1470.3" y2="214.8" stroke="#dcdcdc" stroke-width="1" stroke-linecap="butt"/>
<line x1="907" y1="196.8" x2="1470.3" y2="196.8" stroke="#dcdcdc" stroke-width="1" stroke-linecap="butt"/>
<line x1="907" y1="178.8" x2="1470.3" y2="178.8" stroke="#dcdcdc" stroke-width="1" stroke-linecap="butt"/>
<line x1="907" y1="160.9" x2="1470.3" y2="160.9" stroke="#dcdcdc" stroke-width="1" stroke-linecap="butt"/>
<line x1="907" y1="142.9" x2="1470.3" y2="142.9" stroke="#dcdcdc" stroke-width="1" stroke-linecap="butt"/>
<line x1="907" y1="125" x2="1470.3" y2="125" stroke="#dcdcdc" stroke-width="1" stroke-linecap="butt"/>
<line x1="907" y1="107.1" x2="1470.3" y2="107.1" stroke="#dcdcdc" stroke-width="1" stroke-linecap="butt"/>
<line x1="907" y1="89.1" x2="1470.3" y2="89.1" stroke="#dcdcdc" stroke-width="1" stroke-linecap="butt"/>
<line x1="907" y1="71.2" x2="1470.3" y2="71.2" stroke="#dcdcdc" stroke-width="1" stroke-linecap="butt"/>
<line x1="907" y1="53.2" x2="1470.3" y2="53.2" stroke="#dcdcdc" stroke-width="1" stroke-linecap="butt"/>
<line x1="907" y1="35.3" x2="1470.3" y2="35.3" stroke="#dcdcdc" stroke-width="1" stroke-linecap="butt"/>
<polyline points="907.1,176.4 908.7,175.8 911,174.9 913.5,174 915.8,173.2 917.8,172.6 919.7,172 921.6,171.4 923.7,170.8 926,170.1 928.5,169.4 930.9,168.6 933.2,167.7 935.2,166.6 937.1,165.4 938.9,164.2 941.1,162.9 943.6,161.6 946.4,160.2 949.3,158.8 952.1,157.4 954.9,155.8 957.6,154.2 960.4,152.6 963.2,151.1 966,149.8 968.7,148.6 971.4,147.5 974.2,146.3 977,145.1 979.8,143.8 982.6,142.6 985.3,141.6 987.9,140.9 990.3,140.4 992.7,140 994.8,139.2 996.6,138 998.1,136.6 999.6,135.1 1001.1,133.7 1002.6,132.7 1004,131.8 1005.5,130.7 1007.4,129 1009.9,126.4 1012.8,123.1 1015.8,119.7 1018.4,116.3 1020.6,113.1 1022.6,110 1024.5,106.8 1026.3,103.7 1028,100.5 1029.6,97.3 1031.1,94.1 1032.7,91.1 1034.3,88.3 1036,85.5 1037.5,82.8 1039,80 1040.2,77 1041.4,73.9 1042.5,70.7 1043.7,67.4 1045.2,63.8 1046.8,60 1048.4,56.4 1050,53.2 1051.6,50.6 1053.3,48.4 1054.9,46.5 1056.3,45.2 1057.3,44.5 1058,44.3 1058.6,44.4 1059.5,44.6 1060.7,44.8 1062,45.2 1063.4,45.7 1064.6,46.2 1065.6,46.8 1066.5,47.6 1067.2,48.4 1068,49.2 1068.7,50 1069.2,50.7 1069.8,51.6 1070.6,53 1071.7,54.8 1072.9,57.1 1074.2,59.6 1075.3,62.6 1076.2,66 1076.9,69.8 1077.6,74 1078.5,78.4 1079.5,83.2 1080.7,88.3 1081.9,93.6 1083.2,99 1084.7,104.5 1086.3,110.2 1087.9,115.8 1089.5,121.1 1091.1,126.2 1092.7,131.2 1094.2,135.9 1095.8,140 1097.4,143.4 1099.1,146.2 1100.7,148.7 1102.1,151.1 1103,153.3 1103.7,155.3 1104.4,157.2 1105.3,159 1106.6,160.8 1108.2,162.7 1109.8,164.4 1111.6,166.1 1113.4,167.8 1115.3,169.4 1117.3,170.9 1119.5,172.4 1121.9,173.8 1124.4,175 1127,176.3 1129.4,177.4 1131.5,178.5 1133.3,179.5 1135.3,180.5 1137.4,181.4 1139.9,182.2 1142.5,182.9 1145.3,183.5 1148.1,184.1 1150.9,184.7 1153.8,185.3 1156.9,185.8 1160.1,186.1 1163.7,186.2 1167.5,186.1 1171.3,186.1 1174.8,186.1 1177.8,186.4 1180.5,186.8 1183,187.1 1185.4,187.4 1187.6,187.4 1189.7,187.4 1191.6,187.3 1193.5,187.4 1195.3,187.8 1196.9,188.4 1198.5,188.9 1200.1,189.2 1201.3,189.1 1202.2,188.8 1203.7,188.4 1206.8,188.1 1212,188 1218.7,188 1226.2,188.1 1233.5,188.1 1241.1,188.1 1249.3,188.2 1256.9,188.2 1262.9,188.1 1266.7,187.8 1269,187.3 1270.5,186.8 1272.2,186.1 1274.1,185.1 1275.7,183.9 1277.3,182.8 1278.9,182.1 1280.6,182.1 1282.2,182.5 1283.9,182.9 1285.6,182.8 1287.3,182.1 1289.1,181 1290.8,179.8 1292.3,178.7 1293.4,177.7 1294.2,176.8 1295,175.8 1296.3,174.8 1298.2,173.6 1300.5,172.2 1303,170.9 1305.2,169.8 1307.2,169.1 1309.1,168.6 1310.9,168.1 1312.8,167.2 1314.7,165.8 1316.6,164.2 1318.5,162.4 1320.4,160.9 1322.3,159.6 1324.2,158.4 1326.2,157.3 1328.1,156.4 1330,155.7 1331.9,155.2 1333.8,154.7 1335.7,153.9 1337.6,152.7 1339.5,151.3 1341.4,149.9 1343.3,148.8 1345.2,148.2 1347.2,148 1349.1,147.9 1350.9,147.6 1352.5,147.1 1354,146.5 1355.5,146 1357.2,145.7 1359.3,145.8 1361.7,146.1 1364,146.5 1366.1,146.9 1367.8,147.2 1369.3,147.5 1370.8,147.9 1372.4,148.8 1374.2,150.4 1376.1,152.6 1378.1,154.7 1380.1,156.4 1382.2,157.4 1384.3,158 1386.6,158.4 1388.9,159 1391.4,159.7 1394.1,160.4 1396.7,161.2 1399.1,162.2 1401.2,163.6 1403.2,165.2 1405,166.9 1406.7,168.5 1408,170 1409.1,171.3 1410.2,172.9 1411.8,174.8 1414,177.5 1416.5,180.6 1419.3,183.8 1421.9,186.3 1424.6,188 1427.3,189.3 1429.9,190.3 1432.1,191.3 1433.7,192.4 1434.8,193.3 1435.8,194.3 1437.1,195.1 1438.8,195.8 1440.7,196.4 1442.6,197 1444.7,197.7 1446.9,198.8 1449.2,200.1 1451.4,201.3 1453.6,202.1 1455.6,202.4 1457.5,202.3 1459.3,202.1 1461.2,202.1 1463.3,202.4 1465.5,202.8 1467.4,203.1 1468.8,203.4" fill="none" stroke="#00a0ff" stroke-width="5" stroke-linejoin="round" stroke-linecap="round"/>
<circle cx="1058.4" cy="30.7" r="3.3" fill="#000"/>
<circle cx="1058.4" cy="50.7" r="3.3" fill="#000"/>
<circle cx="1058.4" cy="70.7" r="3.3" fill="#000"/>
<circle cx="1058.4" cy="90.7" r="3.3" fill="#000"/>
<circle cx="1058.4" cy="110.7" r="3.3" fill="#000"/>
<circle cx="1058.4" cy="130.7" r="3.3" fill="#000"/>
<circle cx="1058.4" cy="150.7" r="3.3" fill="#000"/>
<circle cx="1058.4" cy="170.7" r="3.3" fill="#000"/>
<circle cx="1058.4" cy="190.7" r="3.3" fill="#000"/>
<circle cx="1058.4" cy="210.7" r="3.3" fill="#000"/>
<circle cx="1058.4" cy="230.7" r="3.3" fill="#000"/>
<circle cx="1359.1" cy="131.3" r="3.3" fill="#000"/>
<circle cx="1359.1" cy="151.3" r="3.3" fill="#000"/>
<circle cx="1359.1" cy="171.3" r="3.3" fill="#000"/>
<circle cx="1359.1" cy="191.3" r="3.3" fill="#000"/>
<circle cx="1359.1" cy="211.3" r="3.3" fill="#000"/>
<circle cx="1359.1" cy="231.3" r="3.3" fill="#000"/>
<rect x="907" y="17.3" width="563.3" height="215.4" fill="none" stroke="#000" stroke-width="2.6"/>
<line x1="907" y1="232.7" x2="907" y2="239.2" stroke="#000" stroke-width="2.6" stroke-linecap="butt"/>
<line x1="993.7" y1="232.7" x2="993.7" y2="236.7" stroke="#000" stroke-width="2.6" stroke-linecap="butt"/>
<line x1="1080.3" y1="232.7" x2="1080.3" y2="239.2" stroke="#000" stroke-width="2.6" stroke-linecap="butt"/>
<line x1="1167" y1="232.7" x2="1167" y2="236.7" stroke="#000" stroke-width="2.6" stroke-linecap="butt"/>
<line x1="1253.6" y1="232.7" x2="1253.6" y2="239.2" stroke="#000" stroke-width="2.6" stroke-linecap="butt"/>
<line x1="1340.3" y1="232.7" x2="1340.3" y2="236.7" stroke="#000" stroke-width="2.6" stroke-linecap="butt"/>
<line x1="1427" y1="232.7" x2="1427" y2="239.2" stroke="#000" stroke-width="2.6" stroke-linecap="butt"/>
<line x1="993.7" y1="17.3" x2="993.7" y2="21.3" stroke="#000" stroke-width="2.6" stroke-linecap="butt"/>
<line x1="1080.3" y1="17.3" x2="1080.3" y2="23.8" stroke="#000" stroke-width="2.6" stroke-linecap="butt"/>
<line x1="1167" y1="17.3" x2="1167" y2="21.3" stroke="#000" stroke-width="2.6" stroke-linecap="butt"/>
<line x1="1253.6" y1="17.3" x2="1253.6" y2="23.8" stroke="#000" stroke-width="2.6" stroke-linecap="butt"/>
<line x1="1340.3" y1="17.3" x2="1340.3" y2="21.3" stroke="#000" stroke-width="2.6" stroke-linecap="butt"/>
<line x1="1427" y1="17.3" x2="1427" y2="23.8" stroke="#000" stroke-width="2.6" stroke-linecap="butt"/>
<line x1="1463.3" y1="214.8" x2="1470.3" y2="214.8" stroke="#000" stroke-width="2.6" stroke-linecap="butt"/>
<line x1="1466.3" y1="196.8" x2="1470.3" y2="196.8" stroke="#000" stroke-width="2.6" stroke-linecap="butt"/>
<line x1="1463.3" y1="178.8" x2="1470.3" y2="178.8" stroke="#000" stroke-width="2.6" stroke-linecap="butt"/>
<line x1="1466.3" y1="160.9" x2="1470.3" y2="160.9" stroke="#000" stroke-width="2.6" stroke-linecap="butt"/>
<line x1="1463.3" y1="142.9" x2="1470.3" y2="142.9" stroke="#000" stroke-width="2.6" stroke-linecap="butt"/>
<line x1="1466.3" y1="125" x2="1470.3" y2="125" stroke="#000" stroke-width="2.6" stroke-linecap="butt"/>
<line x1="1463.3" y1="107.1" x2="1470.3" y2="107.1" stroke="#000" stroke-width="2.6" stroke-linecap="butt"/>
<line x1="1466.3" y1="89.1" x2="1470.3" y2="89.1" stroke="#000" stroke-width="2.6" stroke-linecap="butt"/>
<line x1="1463.3" y1="71.2" x2="1470.3" y2="71.2" stroke="#000" stroke-width="2.6" stroke-linecap="butt"/>
<line x1="1466.3" y1="53.2" x2="1470.3" y2="53.2" stroke="#000" stroke-width="2.6" stroke-linecap="butt"/>
<line x1="1463.3" y1="35.3" x2="1470.3" y2="35.3" stroke="#000" stroke-width="2.6" stroke-linecap="butt"/>
<text x="907" y="269.5" font-size="35" text-anchor="middle">300</text>
<text x="1080.3" y="269.5" font-size="35" text-anchor="middle">400</text>
<text x="1253.6" y="269.5" font-size="35" text-anchor="middle">500</text>
<text x="1427" y="269.5" font-size="35" text-anchor="middle">600</text>
<text x="1080.5" y="55.7" font-size="21.3" text-anchor="start">387 nm</text>
<text x="1325" y="120.5" font-size="21.3" text-anchor="start">560 nm</text>
<rect x="1329" y="29.5" width="126.3" height="36.1" fill="#fff" stroke="#555" stroke-width="1"/>
<line x1="1333.5" y1="48.2" x2="1391.5" y2="48.2" stroke="#00a0ff" stroke-width="5" stroke-linecap="round"/>
<text x="1398.5" y="55.5" font-size="26" text-anchor="start">AZO</text>
<line x1="950.5" y1="278.6" x2="950.5" y2="493.6" stroke="#dcdcdc" stroke-width="1" stroke-linecap="butt"/>
<line x1="1037" y1="278.6" x2="1037" y2="493.6" stroke="#dcdcdc" stroke-width="1" stroke-linecap="butt"/>
<line x1="1123.6" y1="278.6" x2="1123.6" y2="493.6" stroke="#dcdcdc" stroke-width="1" stroke-linecap="butt"/>
<line x1="1210.1" y1="278.6" x2="1210.1" y2="493.6" stroke="#dcdcdc" stroke-width="1" stroke-linecap="butt"/>
<line x1="1296.7" y1="278.6" x2="1296.7" y2="493.6" stroke="#dcdcdc" stroke-width="1" stroke-linecap="butt"/>
<line x1="1383.2" y1="278.6" x2="1383.2" y2="493.6" stroke="#dcdcdc" stroke-width="1" stroke-linecap="butt"/>
<line x1="907.2" y1="475.7" x2="1469.8" y2="475.7" stroke="#dcdcdc" stroke-width="1" stroke-linecap="butt"/>
<line x1="907.2" y1="457.8" x2="1469.8" y2="457.8" stroke="#dcdcdc" stroke-width="1" stroke-linecap="butt"/>
<line x1="907.2" y1="439.9" x2="1469.8" y2="439.9" stroke="#dcdcdc" stroke-width="1" stroke-linecap="butt"/>
<line x1="907.2" y1="421.9" x2="1469.8" y2="421.9" stroke="#dcdcdc" stroke-width="1" stroke-linecap="butt"/>
<line x1="907.2" y1="404" x2="1469.8" y2="404" stroke="#dcdcdc" stroke-width="1" stroke-linecap="butt"/>
<line x1="907.2" y1="386.1" x2="1469.8" y2="386.1" stroke="#dcdcdc" stroke-width="1" stroke-linecap="butt"/>
<line x1="907.2" y1="368.2" x2="1469.8" y2="368.2" stroke="#dcdcdc" stroke-width="1" stroke-linecap="butt"/>
<line x1="907.2" y1="350.3" x2="1469.8" y2="350.3" stroke="#dcdcdc" stroke-width="1" stroke-linecap="butt"/>
<line x1="907.2" y1="332.4" x2="1469.8" y2="332.4" stroke="#dcdcdc" stroke-width="1" stroke-linecap="butt"/>
<line x1="907.2" y1="314.4" x2="1469.8" y2="314.4" stroke="#dcdcdc" stroke-width="1" stroke-linecap="butt"/>
<line x1="907.2" y1="296.5" x2="1469.8" y2="296.5" stroke="#dcdcdc" stroke-width="1" stroke-linecap="butt"/>
<polyline points="907.5,470 909.2,470.2 911.6,470.4 914.2,470.6 916.7,470.8 918.8,471 920.9,471.2 922.9,471.3 925,471.3 927,471 929,470.6 931.1,470.1 933.3,469.7 935.7,469.5 938.2,469.5 940.8,469.4 943.3,469.3 945.9,469.1 948.5,469 951,468.7 953.3,468.3 955.2,467.6 956.9,466.7 958.4,465.8 960,465 961.6,464.3 963.3,463.7 964.9,463.1 966.7,462.5 968.7,461.9 970.8,461.2 972.9,460.6 975,460 977.1,459.5 979.2,459 981.3,458.4 983.3,457.5 985.1,456.3 986.8,455 988.4,453.4 990,451.7 991.7,449.8 993.4,447.7 995,445.5 996.7,443.3 998.4,441.3 1000,439.4 1001.6,437.3 1003.3,435 1005,432.4 1006.6,429.5 1008.3,426.4 1010,423.3 1011.7,420 1013.4,416.5 1015,413.1 1016.7,410 1018.4,407.2 1020.2,404.7 1021.9,402.3 1023.3,400 1024.3,397.9 1025,396 1025.7,394 1026.7,391.7 1028.2,388.9 1029.9,385.9 1031.7,382.8 1033.3,380 1034.6,377.7 1035.8,375.7 1037,373.8 1038.3,371.7 1039.9,369.2 1041.6,366.6 1043.4,364 1045,361.7 1046.3,360.1 1047.3,358.8 1048.4,357.5 1050,355.8 1052.2,353.4 1054.9,350.5 1057.6,347.6 1060,345 1061.9,342.9 1063.6,341.2 1065.1,339.4 1066.7,337.5 1068.4,335.3 1070.2,333 1071.9,330.6 1073.3,328.3 1074.4,326.1 1075.2,323.9 1075.9,321.9 1076.7,320 1077.4,318.4 1078,317 1078.8,315.6 1080,314.2 1081.8,312.7 1083.9,311.1 1086.2,309.6 1088.3,308.3 1090.1,307.3 1091.7,306.4 1093.4,305.7 1095,305 1096.7,304.2 1098.5,303.5 1100.1,302.9 1101.7,302.7 1103.1,303 1104.4,303.6 1105.6,304.3 1106.7,305 1107.5,305.4 1108.2,305.8 1108.9,306.3 1110,307 1111.7,308.3 1113.8,310 1116,311.6 1118.1,312.5 1119.9,312.5 1121.7,312 1123.4,311.3 1125.1,310.7 1126.9,310.3 1128.7,309.9 1130.5,309.6 1132.1,309.5 1133.6,309.6 1135,309.8 1136.2,310.2 1137.4,310.7 1138.3,311.5 1138.9,312.4 1139.7,313.4 1140.9,314.2 1142.7,314.8 1145,315.2 1147.4,315.5 1149.6,316 1151.6,316.6 1153.5,317.2 1155.2,317.9 1156.7,318.6 1157.8,319.2 1158.6,319.9 1159.3,320.7 1160.2,322.1 1161.4,324.2 1162.7,326.9 1164.1,329.8 1165.4,332.6 1166.7,335.2 1167.9,337.9 1169.3,340.6 1170.7,343.2 1172.3,345.9 1174,348.7 1175.8,351.4 1177.7,353.7 1179.8,355.5 1182.1,356.9 1184.4,358.3 1186.5,359.8 1188.4,361.7 1190.2,363.7 1191.9,365.7 1193.5,367.7 1195.2,369.5 1196.8,371.2 1198.3,373 1199.6,374.7 1200.4,376.3 1200.8,377.7 1201.3,379.4 1202.3,381.8 1204.1,385.3 1206.4,389.6 1208.9,393.9 1211.1,397.5 1212.9,400 1214.5,402 1216.1,403.7 1218.1,405.4 1220.6,407.2 1223.3,408.9 1226.1,410.7 1228.6,412.5 1230.6,414.4 1232.2,416.2 1233.8,418.2 1235.6,420.4 1237.7,423 1239.9,425.9 1242.2,428.6 1244.4,430.9 1246.5,432.4 1248.6,433.4 1250.8,434.2 1253.2,435.3 1256,436.7 1259.2,438.3 1262.4,439.9 1265.4,441.4 1268.2,442.8 1270.8,444.1 1273.4,445.3 1276,446.7 1278.6,448.2 1281.3,449.9 1283.9,451.4 1286.5,452.8 1289,453.9 1291.5,454.8 1293.9,455.7 1296.5,456.5 1299.1,457.3 1301.7,458 1304.5,458.7 1307.7,459.5 1311.5,460.4 1315.7,461.4 1320.2,462.4 1324.5,463.2 1328.3,463.9 1331.9,464.5 1336,465.1 1341.4,465.5 1348.6,465.8 1357.2,466 1366.2,466.1 1375,466.3 1383.5,466.5 1392.2,466.6 1400.7,466.8 1408.7,467.1 1416.1,467.5 1422.9,468.1 1429.7,468.6 1436.8,469.1 1445.1,469.5 1454,469.9 1462.1,470.3 1467.7,470.5" fill="none" stroke="#ff0000" stroke-width="5" stroke-linejoin="round" stroke-linecap="round"/>
<circle cx="968.8" cy="412.5" r="3.3" fill="#000"/>
<circle cx="968.8" cy="432.5" r="3.3" fill="#000"/>
<circle cx="968.8" cy="452.5" r="3.3" fill="#000"/>
<circle cx="968.8" cy="472.5" r="3.3" fill="#000"/>
<circle cx="968.8" cy="492.5" r="3.3" fill="#000"/>
<circle cx="1102.8" cy="292.5" r="3.3" fill="#000"/>
<circle cx="1102.8" cy="312.5" r="3.3" fill="#000"/>
<circle cx="1102.8" cy="332.5" r="3.3" fill="#000"/>
<circle cx="1102.8" cy="352.5" r="3.3" fill="#000"/>
<circle cx="1102.8" cy="372.5" r="3.3" fill="#000"/>
<circle cx="1102.8" cy="392.5" r="3.3" fill="#000"/>
<circle cx="1102.8" cy="412.5" r="3.3" fill="#000"/>
<circle cx="1102.8" cy="432.5" r="3.3" fill="#000"/>
<circle cx="1102.8" cy="452.5" r="3.3" fill="#000"/>
<circle cx="1102.8" cy="472.5" r="3.3" fill="#000"/>
<circle cx="1102.8" cy="492.5" r="3.3" fill="#000"/>
<rect x="907.2" y="278.6" width="562.6" height="215" fill="none" stroke="#000" stroke-width="2.6"/>
<line x1="950.5" y1="493.6" x2="950.5" y2="500.1" stroke="#000" stroke-width="2.6" stroke-linecap="butt"/>
<line x1="1037" y1="493.6" x2="1037" y2="497.6" stroke="#000" stroke-width="2.6" stroke-linecap="butt"/>
<line x1="1123.6" y1="493.6" x2="1123.6" y2="500.1" stroke="#000" stroke-width="2.6" stroke-linecap="butt"/>
<line x1="1210.1" y1="493.6" x2="1210.1" y2="497.6" stroke="#000" stroke-width="2.6" stroke-linecap="butt"/>
<line x1="1296.7" y1="493.6" x2="1296.7" y2="500.1" stroke="#000" stroke-width="2.6" stroke-linecap="butt"/>
<line x1="1383.2" y1="493.6" x2="1383.2" y2="497.6" stroke="#000" stroke-width="2.6" stroke-linecap="butt"/>
<line x1="1469.8" y1="493.6" x2="1469.8" y2="500.1" stroke="#000" stroke-width="2.6" stroke-linecap="butt"/>
<line x1="950.5" y1="278.6" x2="950.5" y2="285.1" stroke="#000" stroke-width="2.6" stroke-linecap="butt"/>
<line x1="1037" y1="278.6" x2="1037" y2="282.6" stroke="#000" stroke-width="2.6" stroke-linecap="butt"/>
<line x1="1123.6" y1="278.6" x2="1123.6" y2="285.1" stroke="#000" stroke-width="2.6" stroke-linecap="butt"/>
<line x1="1210.1" y1="278.6" x2="1210.1" y2="282.6" stroke="#000" stroke-width="2.6" stroke-linecap="butt"/>
<line x1="1296.7" y1="278.6" x2="1296.7" y2="285.1" stroke="#000" stroke-width="2.6" stroke-linecap="butt"/>
<line x1="1383.2" y1="278.6" x2="1383.2" y2="282.6" stroke="#000" stroke-width="2.6" stroke-linecap="butt"/>
<line x1="1462.8" y1="475.7" x2="1469.8" y2="475.7" stroke="#000" stroke-width="2.6" stroke-linecap="butt"/>
<line x1="1465.8" y1="457.8" x2="1469.8" y2="457.8" stroke="#000" stroke-width="2.6" stroke-linecap="butt"/>
<line x1="1462.8" y1="439.9" x2="1469.8" y2="439.9" stroke="#000" stroke-width="2.6" stroke-linecap="butt"/>
<line x1="1465.8" y1="421.9" x2="1469.8" y2="421.9" stroke="#000" stroke-width="2.6" stroke-linecap="butt"/>
<line x1="1462.8" y1="404" x2="1469.8" y2="404" stroke="#000" stroke-width="2.6" stroke-linecap="butt"/>
<line x1="1465.8" y1="386.1" x2="1469.8" y2="386.1" stroke="#000" stroke-width="2.6" stroke-linecap="butt"/>
<line x1="1462.8" y1="368.2" x2="1469.8" y2="368.2" stroke="#000" stroke-width="2.6" stroke-linecap="butt"/>
<line x1="1465.8" y1="350.3" x2="1469.8" y2="350.3" stroke="#000" stroke-width="2.6" stroke-linecap="butt"/>
<line x1="1462.8" y1="332.4" x2="1469.8" y2="332.4" stroke="#000" stroke-width="2.6" stroke-linecap="butt"/>
<line x1="1465.8" y1="314.4" x2="1469.8" y2="314.4" stroke="#000" stroke-width="2.6" stroke-linecap="butt"/>
<line x1="1462.8" y1="296.5" x2="1469.8" y2="296.5" stroke="#000" stroke-width="2.6" stroke-linecap="butt"/>
<text x="950.5" y="530" font-size="35" text-anchor="middle">400</text>
<text x="1123.6" y="530" font-size="35" text-anchor="middle">500</text>
<text x="1296.7" y="530" font-size="35" text-anchor="middle">600</text>
<text x="1469.8" y="530" font-size="35" text-anchor="middle">700</text>
<text x="936.5" y="396.5" font-size="21.3" text-anchor="start">412 nm</text>
<text x="1128" y="302.6" font-size="21.3" text-anchor="start">486 nm</text>
<rect x="1304.9" y="292.8" width="153.3" height="42.3" fill="#fff" stroke="#555" stroke-width="1"/>
<line x1="1308.5" y1="310.5" x2="1366" y2="310.5" stroke="#ff0000" stroke-width="5" stroke-linecap="round"/>
<text x="1373" y="319.5" font-size="26" text-anchor="start">CuCrO<tspan font-size="17" dy="8">2</tspan></text>
<text x="859" y="122.1" font-size="30" text-anchor="middle" font-weight="bold" transform="rotate(-90 859 122.1)">PL Intensity (a. u.)</text>
<text x="856" y="396.6" font-size="30" text-anchor="middle" font-weight="bold" transform="rotate(-90 856 396.6)">PL Intensity (a. u.)</text>
<text x="757" y="57" font-size="55" text-anchor="start" font-weight="bold">(b)</text>
<line x1="238.2" y1="593" x2="238.2" y2="1023.3" stroke="#dcdcdc" stroke-width="1" stroke-linecap="butt"/>
<line x1="300.7" y1="593" x2="300.7" y2="1023.3" stroke="#dcdcdc" stroke-width="1" stroke-linecap="butt"/>
<line x1="363.2" y1="593" x2="363.2" y2="1023.3" stroke="#dcdcdc" stroke-width="1" stroke-linecap="butt"/>
<line x1="425.7" y1="593" x2="425.7" y2="1023.3" stroke="#dcdcdc" stroke-width="1" stroke-linecap="butt"/>
<line x1="488.3" y1="593" x2="488.3" y2="1023.3" stroke="#dcdcdc" stroke-width="1" stroke-linecap="butt"/>
<line x1="550.8" y1="593" x2="550.8" y2="1023.3" stroke="#dcdcdc" stroke-width="1" stroke-linecap="butt"/>
<line x1="613.3" y1="593" x2="613.3" y2="1023.3" stroke="#dcdcdc" stroke-width="1" stroke-linecap="butt"/>
<line x1="675.8" y1="593" x2="675.8" y2="1023.3" stroke="#dcdcdc" stroke-width="1" stroke-linecap="butt"/>
<line x1="175.7" y1="941.3" x2="738.3" y2="941.3" stroke="#dcdcdc" stroke-width="1" stroke-linecap="butt"/>
<line x1="175.7" y1="859.4" x2="738.3" y2="859.4" stroke="#dcdcdc" stroke-width="1" stroke-linecap="butt"/>
<line x1="175.7" y1="777.4" x2="738.3" y2="777.4" stroke="#dcdcdc" stroke-width="1" stroke-linecap="butt"/>
<line x1="175.7" y1="695.5" x2="738.3" y2="695.5" stroke="#dcdcdc" stroke-width="1" stroke-linecap="butt"/>
<line x1="175.7" y1="613.5" x2="738.3" y2="613.5" stroke="#dcdcdc" stroke-width="1" stroke-linecap="butt"/>
<polyline points="177.4,905.1 180.1,904.4 184.1,903.4 188.3,902.2 192.1,901 195.1,899.7 197.7,898.4 200.3,897 203.1,895.5 206.2,893.9 209.4,892.3 212.7,890.6 216,889.1 219.2,887.7 222.3,886.4 225.5,885.2 228.9,884.1 232.5,883.1 236.2,882.3 240,881.6 243.7,880.8 247.5,880.1 251.3,879.4 255,878.7 258.4,878 261.4,877.3 264.1,876.5 266.7,875.8 269.4,874.9 272.1,874 274.7,873 277.5,871.9 280.5,870.6 284,869.2 287.8,867.7 291.7,866 295.2,864.2 298.2,862.2 301,860 303.6,857.6 306.3,855 309.2,852 312.1,848.7 314.8,845.3 317.3,842.1 319.2,839.3 320.8,836.8 322.3,834.2 324.2,831.2 326.6,827.6 329.2,823.6 332,819.5 334.7,815.4 337.4,811.4 340.1,807.3 342.8,803.3 345.3,799.6 347.6,796.3 349.8,793.2 351.9,790.3 354,787.4 356.1,784.7 358.2,782.2 360.4,779.6 362.8,776.8 365.6,773.7 368.7,770.3 371.9,766.9 375.1,763.7 378.1,760.7 381.1,757.8 384.2,755 387.4,752.3 390.9,749.7 394.5,747.2 398.1,744.8 401.4,742.6 404.2,740.7 406.6,739 409.1,737.4 411.9,735.6 415.1,733.7 418.6,731.7 422.3,729.7 426,727.7 429.8,725.8 433.6,724 437.6,722 441.8,719.8 446.3,717.1 451.2,714.1 455.9,711.1 460,708.5 463.2,706.5 465.8,704.9 468.3,703.4 471.4,701.8 475.2,699.9 479.5,697.9 484,696 488.5,694.2 492.9,692.7 497.3,691.4 502.1,690 507.6,688.5 514.1,686.7 521.3,684.8 528.8,682.8 536.1,680.9 543.2,679.2 550.3,677.5 557.5,675.8 564.6,674.2 571.7,672.5 578.9,670.8 586.1,669.2 593.2,667.6 600.3,666.1 607.5,664.8 614.6,663.5 621.7,662.2 628.8,661 636,660 643.2,658.9 650.3,657.7 657.4,656.4 664.6,654.9 671.7,653.5 678.8,652.3 685.9,651.4 693,650.7 700.1,650.1 707.3,649.5 715.2,648.9 723.7,648.3 731.2,647.8 736.5,647.4" fill="none" stroke="#ff0000" stroke-width="4.6" stroke-linejoin="round" stroke-linecap="round"/>
<polyline points="177.4,1020.2 186.9,1020.2 200.8,1020.2 215,1020.1 225.2,1019.8 229.9,1019.4 231.5,1018.8 231.8,1018.1 232.6,1017 234.1,1015.7 235.5,1014.2 236.8,1012.3 238.1,1009.7 239.5,1006.3 240.9,1002.3 242.3,997.9 243.7,993.1 245.1,988.1 246.5,982.9 247.8,977.2 249.2,971 250.6,964.3 251.9,957.2 253.3,949.6 254.7,941.5 256.1,932.6 257.6,923.1 259,913.6 260.2,904.7 261.3,896.8 262.2,889.4 263,882.3 263.9,875.2 264.8,868 265.8,861 266.7,854.1 267.6,847.6 268.4,841.4 269.2,835.4 269.9,829.9 270.5,825 271,821.3 271.4,818.5 271.9,815.6 272.5,811.9 273.4,806.9 274.4,801.1 275.6,795 276.8,789.1 278.1,783.2 279.4,777.3 280.8,771.5 282.1,766.3 283.4,761.9 284.8,758 286.1,754.3 287.4,750.5 288.7,746.5 290,742.4 291.3,738.4 292.6,734.7 293.9,731.4 295.1,728.5 296.5,725.6 297.9,722.5 299.5,719.1 301.2,715.6 303,712 304.9,708.4 307,704.7 309.2,701 311.5,697.4 313.7,694.4 315.9,692.1 318.1,690.2 320.3,688.7 322.5,687.4 324.6,686.3 326.7,685.4 328.9,684.7 331.2,683.9 333.7,683.1 336.4,682.4 339.1,681.5 341.8,680.4 344.4,678.8 347.1,676.9 349.7,675 352.3,673.3 354.8,672 357.1,670.8 359.7,669.8 362.8,668.9 366.7,668 371.2,667.3 375.8,666.6 380.4,666 384.8,665.6 389.2,665.2 393.5,664.9 397.9,664.6 402.3,664.2 406.6,663.7 411,663.3 415.4,662.8 419.8,662.3 424.2,661.8 428.6,661.2 433,660.7 437.4,660.1 441.7,659.5 446.1,658.9 450.5,658.4 455,657.9 459.7,657.4 464.2,657 468.1,656.8 471.1,656.8 473.5,656.9 475.9,657.1 479,657.1 482.7,656.9 486.8,656.5 491.7,656.1 498,655.8 506.2,655.5 515.9,655.3 526.1,655 536.1,654.8 542.7,654.6 547.4,654.4 555.9,654.3 574.2,654.2 609.8,654.2 657.7,654.2 704.4,654.2 736.5,654.2" fill="none" stroke="#00a0ff" stroke-width="4.6" stroke-linejoin="round" stroke-linecap="round"/>
<polyline points="177.4,1021.3 189.9,1021.4 208.2,1021.5 226.8,1021.4 240,1021 245.8,1020.3 247.2,1019.4 246.9,1018.1 247.3,1016.1 248.8,1013.3 250.2,1009.8 251.5,1006 252.9,1002.3 254.3,998.7 255.8,995 257.2,991.3 258.4,987.6 259.5,983.9 260.4,980.3 261.3,976.6 262.1,972.9 262.9,969.5 263.6,966.3 264.2,962.7 264.8,958.1 265.3,952.3 265.8,945.7 266.2,938.3 266.7,930.5 267.3,921.7 268,912.1 268.7,902.5 269.4,893.7 270.1,886.1 270.8,879.3 271.5,872.7 272.2,866 272.9,859.2 273.6,852.5 274.3,845.6 275,838.4 275.7,830.5 276.4,822 277.1,813.8 277.7,806.7 278.3,800.8 278.9,795.7 279.4,791.5 280,788 280.5,785.5 280.9,784 281.4,783 282.1,782.1 283.1,781.4 284.3,781 285.8,780.7 287.4,780.4 289.3,780.1 291.5,779.8 293.8,779.4 296.1,778.6 298.3,777.2 300.6,775.4 302.8,773.5 304.9,771.6 306.8,769.9 308.6,768.3 310.3,766.6 311.9,764.6 313.3,762.1 314.7,759.2 315.9,756.4 317.2,754 318.4,752.1 319.6,750.5 320.9,749.1 322.5,747.9 324.4,746.9 326.5,746.2 328.8,745.6 331.2,745.3 333.7,745.3 336.4,745.5 339.1,745.9 341.8,746.1 344.4,746.3 347.1,746.5 349.7,746.5 352.3,746.1 354.9,745.2 357.6,744 360.2,742.5 362.8,740.9 365.4,739.1 368,737.1 370.7,735 373.3,733 375.9,731.2 378.6,729.5 381.3,727.8 383.9,726 386.5,724 389.2,722 391.8,720 394.4,718.1 397,716.4 399.6,714.8 402.3,713.3 404.9,711.9 407.5,710.6 410.1,709.5 412.8,708.4 415.4,707.5 418,706.6 420.5,705.8 423.1,705.2 425.9,704.9 428.8,705.1 431.9,705.6 435.1,706.2 438.2,706.7 441.3,707 444.5,707.2 447.6,707.4 450.5,707.5 452.9,707.6 455.1,707.7 457.3,707.7 460,707.9 463.2,708.2 466.8,708.7 470.7,709.1 475.2,709.4 480.3,709.5 486,709.5 492,709.4 498,709 504,708.5 510,707.8 516.3,706.8 522.8,705.6 529.8,703.9 537.2,701.9 544.5,699.8 551.3,698 557.3,696.7 562.8,695.6 568.2,694.5 574.2,693.3 580.9,691.7 588.1,690 595.4,688.3 602.7,686.6 609.8,685.1 616.9,683.5 624.1,682.1 631.2,680.9 638.3,679.8 645.5,678.8 652.7,678.1 659.8,677.5 667.1,677.2 674.4,677.1 681.6,677.2 688.3,677.5 694.3,678.2 699.9,679.1 705.4,680.1 711.1,680.9 717.9,681.4 725.2,681.9 731.9,682.2 736.5,682.4" fill="none" stroke="#00fa00" stroke-width="4.6" stroke-linejoin="round" stroke-linecap="round"/>
<rect x="175.7" y="593" width="562.6" height="430.3" fill="none" stroke="#000" stroke-width="2.6"/>
<line x1="175.7" y1="1023.3" x2="175.7" y2="1028.6" stroke="#000" stroke-width="2.6" stroke-linecap="butt"/>
<line x1="238.2" y1="1023.3" x2="238.2" y2="1032.6" stroke="#000" stroke-width="2.6" stroke-linecap="butt"/>
<line x1="300.7" y1="1023.3" x2="300.7" y2="1028.6" stroke="#000" stroke-width="2.6" stroke-linecap="butt"/>
<line x1="363.2" y1="1023.3" x2="363.2" y2="1032.6" stroke="#000" stroke-width="2.6" stroke-linecap="butt"/>
<line x1="425.7" y1="1023.3" x2="425.7" y2="1028.6" stroke="#000" stroke-width="2.6" stroke-linecap="butt"/>
<line x1="488.3" y1="1023.3" x2="488.3" y2="1032.6" stroke="#000" stroke-width="2.6" stroke-linecap="butt"/>
<line x1="550.8" y1="1023.3" x2="550.8" y2="1028.6" stroke="#000" stroke-width="2.6" stroke-linecap="butt"/>
<line x1="613.3" y1="1023.3" x2="613.3" y2="1032.6" stroke="#000" stroke-width="2.6" stroke-linecap="butt"/>
<line x1="675.8" y1="1023.3" x2="675.8" y2="1028.6" stroke="#000" stroke-width="2.6" stroke-linecap="butt"/>
<line x1="738.3" y1="1023.3" x2="738.3" y2="1032.6" stroke="#000" stroke-width="2.6" stroke-linecap="butt"/>
<line x1="238.2" y1="593" x2="238.2" y2="602.3" stroke="#000" stroke-width="2.6" stroke-linecap="butt"/>
<line x1="300.7" y1="593" x2="300.7" y2="598.3" stroke="#000" stroke-width="2.6" stroke-linecap="butt"/>
<line x1="363.2" y1="593" x2="363.2" y2="602.3" stroke="#000" stroke-width="2.6" stroke-linecap="butt"/>
<line x1="425.7" y1="593" x2="425.7" y2="598.3" stroke="#000" stroke-width="2.6" stroke-linecap="butt"/>
<line x1="488.3" y1="593" x2="488.3" y2="602.3" stroke="#000" stroke-width="2.6" stroke-linecap="butt"/>
<line x1="550.8" y1="593" x2="550.8" y2="598.3" stroke="#000" stroke-width="2.6" stroke-linecap="butt"/>
<line x1="613.3" y1="593" x2="613.3" y2="602.3" stroke="#000" stroke-width="2.6" stroke-linecap="butt"/>
<line x1="675.8" y1="593" x2="675.8" y2="598.3" stroke="#000" stroke-width="2.6" stroke-linecap="butt"/>
<line x1="166.7" y1="1023.3" x2="175.7" y2="1023.3" stroke="#000" stroke-width="2.6" stroke-linecap="butt"/>
<line x1="166.7" y1="941.3" x2="175.7" y2="941.3" stroke="#000" stroke-width="2.6" stroke-linecap="butt"/>
<line x1="729.8" y1="941.3" x2="738.3" y2="941.3" stroke="#000" stroke-width="2.6" stroke-linecap="butt"/>
<line x1="166.7" y1="859.4" x2="175.7" y2="859.4" stroke="#000" stroke-width="2.6" stroke-linecap="butt"/>
<line x1="729.8" y1="859.4" x2="738.3" y2="859.4" stroke="#000" stroke-width="2.6" stroke-linecap="butt"/>
<line x1="166.7" y1="777.4" x2="175.7" y2="777.4" stroke="#000" stroke-width="2.6" stroke-linecap="butt"/>
<line x1="729.8" y1="777.4" x2="738.3" y2="777.4" stroke="#000" stroke-width="2.6" stroke-linecap="butt"/>
<line x1="166.7" y1="695.5" x2="175.7" y2="695.5" stroke="#000" stroke-width="2.6" stroke-linecap="butt"/>
<line x1="729.8" y1="695.5" x2="738.3" y2="695.5" stroke="#000" stroke-width="2.6" stroke-linecap="butt"/>
<line x1="166.7" y1="613.5" x2="175.7" y2="613.5" stroke="#000" stroke-width="2.6" stroke-linecap="butt"/>
<line x1="729.8" y1="613.5" x2="738.3" y2="613.5" stroke="#000" stroke-width="2.6" stroke-linecap="butt"/>
<text x="238.2" y="1063.2" font-size="35" text-anchor="middle">300</text>
<text x="363.2" y="1063.2" font-size="35" text-anchor="middle">400</text>
<text x="488.3" y="1063.2" font-size="35" text-anchor="middle">500</text>
<text x="613.3" y="1063.2" font-size="35" text-anchor="middle">600</text>
<text x="738.3" y="1063.2" font-size="35" text-anchor="middle">700</text>
<text x="162" y="1033.5" font-size="35" text-anchor="end">0</text>
<text x="162" y="951.5" font-size="35" text-anchor="end">20</text>
<text x="162" y="869.6" font-size="35" text-anchor="end">40</text>
<text x="162" y="787.6" font-size="35" text-anchor="end">60</text>
<text x="162" y="705.7" font-size="35" text-anchor="end">80</text>
<text x="162" y="623.7" font-size="35" text-anchor="end">100</text>
<rect x="522.4" y="906.9" width="212.2" height="112.1" fill="#fff" stroke="#555" stroke-width="1"/>
<line x1="527" y1="925.8" x2="574" y2="925.8" stroke="#ff0000" stroke-width="5" stroke-linecap="round"/>
<line x1="527" y1="964.9" x2="574" y2="964.9" stroke="#00a0ff" stroke-width="5" stroke-linecap="round"/>
<line x1="527" y1="996.7" x2="574" y2="996.7" stroke="#00fa00" stroke-width="5" stroke-linecap="round"/>
<text x="581.5" y="933.5" font-size="25.5" text-anchor="start" font-weight="bold">CuCrO<tspan font-size="15.5" dy="8.5">2</tspan></text>
<text x="581.5" y="972.2" font-size="25.5" text-anchor="start" font-weight="bold">AZO</text>
<text x="581.5" y="1004.1" font-size="25.5" text-anchor="start" font-weight="bold">CuCrO<tspan font-size="15.5" dy="8.5">2</tspan><tspan dy="-8.5" dx="-1.5">/AZO</tspan></text>
<rect x="175.7" y="593" width="562.6" height="430.3" fill="none" stroke="#000" stroke-width="2.6"/>
<text x="96" y="809" font-size="44" text-anchor="middle" font-weight="bold" transform="rotate(-90 96 809)">Transmittance (%)</text>
<text x="457.4" y="1127.3" font-size="44" text-anchor="middle" font-weight="bold">Wavelength (nm)</text>
<text x="7.8" y="602.5" font-size="55" text-anchor="start" font-weight="bold">(c)</text>
<line x1="970.3" y1="592.8" x2="970.3" y2="1023.3" stroke="#dcdcdc" stroke-width="1" stroke-linecap="butt"/>
<line x1="1032.8" y1="592.8" x2="1032.8" y2="1023.3" stroke="#dcdcdc" stroke-width="1" stroke-linecap="butt"/>
<line x1="1095.3" y1="592.8" x2="1095.3" y2="1023.3" stroke="#dcdcdc" stroke-width="1" stroke-linecap="butt"/>
<line x1="1157.8" y1="592.8" x2="1157.8" y2="1023.3" stroke="#dcdcdc" stroke-width="1" stroke-linecap="butt"/>
<line x1="1220.3" y1="592.8" x2="1220.3" y2="1023.3" stroke="#dcdcdc" stroke-width="1" stroke-linecap="butt"/>
<line x1="1282.8" y1="592.8" x2="1282.8" y2="1023.3" stroke="#dcdcdc" stroke-width="1" stroke-linecap="butt"/>
<line x1="1345.3" y1="592.8" x2="1345.3" y2="1023.3" stroke="#dcdcdc" stroke-width="1" stroke-linecap="butt"/>
<line x1="1407.8" y1="592.8" x2="1407.8" y2="1023.3" stroke="#dcdcdc" stroke-width="1" stroke-linecap="butt"/>
<line x1="907.8" y1="969.5" x2="1470.3" y2="969.5" stroke="#dcdcdc" stroke-width="1" stroke-linecap="butt"/>
<line x1="907.8" y1="915.7" x2="1470.3" y2="915.7" stroke="#dcdcdc" stroke-width="1" stroke-linecap="butt"/>
<line x1="907.8" y1="861.9" x2="1470.3" y2="861.9" stroke="#dcdcdc" stroke-width="1" stroke-linecap="butt"/>
<line x1="907.8" y1="808" x2="1470.3" y2="808" stroke="#dcdcdc" stroke-width="1" stroke-linecap="butt"/>
<line x1="907.8" y1="754.2" x2="1470.3" y2="754.2" stroke="#dcdcdc" stroke-width="1" stroke-linecap="butt"/>
<line x1="907.8" y1="700.4" x2="1470.3" y2="700.4" stroke="#dcdcdc" stroke-width="1" stroke-linecap="butt"/>
<line x1="907.8" y1="646.6" x2="1470.3" y2="646.6" stroke="#dcdcdc" stroke-width="1" stroke-linecap="butt"/>
<polyline points="908.7,820.4 910.8,820.9 913.8,821.6 917.2,822.4 920.2,823.2 922.8,824.1 925.3,825 927.8,826 930.3,827.2 932.8,828.6 935.2,830.1 937.7,831.7 940.4,833.3 943.2,835 946.2,836.7 949.3,838.5 952.5,840.4 955.9,842.4 959.4,844.5 963,846.5 966.6,848.4 970.1,850 973.5,851.5 977,852.8 980.7,854.1 984.7,855.3 988.8,856.5 992.9,857.5 996.9,858.5 1000.6,859.3 1004.1,860 1007.5,860.6 1011,861.5 1014.5,862.6 1017.9,863.7 1021.4,865.1 1025.1,866.6 1029,868.3 1033,870.2 1037.1,872.3 1041.2,874.7 1045.2,877.4 1049.3,880.4 1053.4,883.5 1057.4,886.8 1061.4,890.2 1065.5,893.7 1069.5,897.3 1073.5,900.9 1077.5,904.4 1081.6,908 1085.7,911.5 1089.7,915 1093.7,918.5 1097.8,922 1101.8,925.6 1105.8,929.1 1109.9,932.7 1114,936.5 1118.1,940 1122,943.3 1125.7,946.2 1129.2,948.8 1132.6,951.2 1136.1,953.4 1139.7,955.3 1143.4,957 1146.9,958.5 1150,959.8 1152,960.7 1153.3,961.3 1154.9,962.1 1158.2,963.5 1163.5,965.9 1170.1,968.9 1177.6,972 1185.4,974.9 1193.7,977.4 1202.6,979.8 1211.8,982 1220.6,984 1229.1,985.7 1237.4,987.1 1245.6,988.4 1253.5,989.7 1260.9,991.1 1267.9,992.6 1275.1,994 1283,995.3 1292.3,996.6 1302.6,997.8 1312.7,998.9 1321.6,999.9 1328.5,1000.6 1334.1,1001.1 1339.6,1001.6 1345.9,1002.1 1353.5,1002.8 1361.7,1003.5 1370.2,1004.3 1378.3,1004.9 1386.1,1005.4 1393.8,1005.9 1401.3,1006.3 1408.5,1006.7 1415.2,1007 1421.6,1007.3 1428,1007.5 1435.1,1007.8 1443.9,1008.2 1453.7,1008.7 1462.7,1009.1 1469,1009.4" fill="none" stroke="#ff0000" stroke-width="4.5" stroke-linejoin="round" stroke-linecap="round"/>
<polyline points="908.7,743.2 910.5,743.3 913.2,743.4 916.2,743.6 919.3,743.8 922.4,744 925.7,744.2 929.2,744.6 932.8,745.1 936.6,745.8 940.5,746.7 944.5,747.7 948.3,749 951.9,750.6 955.3,752.5 958.6,754.5 961.8,756.7 964.9,759 967.8,761.4 970.7,763.9 973.4,766.4 975.9,768.7 978.3,770.8 980.6,773.2 983,776 985.5,779.5 988,783.4 990.4,787.5 992.7,791.5 994.8,795.4 996.8,799.2 998.6,803 1000.4,806.9 1002,810.7 1003.5,814.5 1005,818.4 1006.5,822.5 1008.1,826.7 1009.6,831 1011.3,835.6 1013,840.4 1014.9,845.7 1017,851.2 1019,857 1021.1,862.6 1023.1,868.1 1025.1,873.5 1027.1,879 1029.1,884.7 1031.1,890.7 1033.1,897 1035.2,903.2 1037.2,909 1039.2,914.4 1041.3,919.4 1043.3,924.3 1045.3,929.1 1047.3,933.8 1049.3,938.5 1051.3,942.9 1053.3,947.3 1055.3,951.5 1057.2,955.5 1059.2,959.4 1061.4,963.4 1063.8,967.5 1066.3,971.8 1068.9,975.8 1071.5,979.6 1074,983 1076.4,986 1078.9,988.9 1081.6,991.7 1084.4,994.4 1087.3,997.1 1090.3,999.5 1093.7,1001.8 1097.4,1003.9 1101.5,1005.7 1105.7,1007.4 1109.8,1008.8 1113.7,1009.9 1117.4,1010.7 1121.4,1011.3 1126,1011.9 1130.9,1012.5 1136.1,1013 1142.2,1013.4 1150,1013.9 1159.8,1014.4 1171.3,1015 1183.8,1015.5 1196.7,1015.8 1208.9,1015.9 1220.9,1015.9 1235.1,1015.8 1253.5,1015.8 1278.2,1015.8 1307.4,1015.9 1338.1,1015.9 1367,1015.8 1395.7,1015.5 1425.1,1015.1 1450.9,1014.8 1469,1014.5" fill="none" stroke="#00a0ff" stroke-width="4.5" stroke-linejoin="round" stroke-linecap="round"/>
<polyline points="908.7,628.3 910.6,628.8 913.3,629.4 916.3,630.2 919.3,631.2 922.1,632.4 924.9,633.7 927.8,635.3 930.9,637 934.1,638.9 937.5,641.1 941,643.3 944.4,645.7 947.8,648.1 951.1,650.7 954.5,653.4 957.9,656.3 961.4,659.5 965,663 968.4,666.5 971.4,669.8 973.8,672.7 975.8,675.5 977.5,678.3 979.2,681.4 980.8,684.8 982.2,688.4 983.5,692.4 984.9,696.9 986.3,702.1 987.8,707.8 989.2,713.9 990.7,720 992.2,726.3 993.7,732.8 995.2,739.2 996.5,745.1 997.6,750.2 998.5,754.9 999.4,759.4 1000.4,764.4 1001.5,770.1 1002.8,776.1 1004,782.1 1005.2,787.6 1006.3,792.4 1007.3,796.7 1008.4,800.8 1009.5,805 1010.7,809.2 1011.9,813.4 1013.1,817.5 1014.5,821.5 1016,825.3 1017.6,829.1 1019.3,832.7 1021.1,836.3 1023,840 1025,843.8 1027.1,847.4 1029.1,850.4 1031,852.7 1032.9,854.5 1034.9,856 1037.2,857.5 1039.9,858.9 1043,860.1 1046.2,861.2 1049.3,862.6 1052.3,864.1 1055.3,865.8 1058.4,867.6 1061.4,869.6 1064.4,871.8 1067.5,874.3 1070.5,876.9 1073.5,879.7 1076.5,882.7 1079.5,886 1082.6,889.4 1085.6,892.8 1088.6,896.2 1091.6,899.7 1094.7,903.2 1097.7,906.9 1100.7,910.8 1103.7,914.9 1106.8,919 1109.8,923.1 1112.8,927.2 1115.9,931.3 1119,935.3 1122,939.2 1125.2,943.1 1128.4,947 1131.5,950.6 1134.1,953.4 1135.7,955 1136.7,955.6 1137.8,956.3 1140,957.9 1143.5,961 1147.8,965 1152.7,969.1 1158.2,972.6 1164.2,975.3 1170.7,977.6 1177.8,979.7 1185.4,981.7 1194,983.8 1203.4,985.9 1212.6,987.8 1220.6,989.2 1226.9,990 1232.1,990.4 1237,990.6 1242.1,990.8 1247.5,991 1252.9,991.1 1258.6,991.1 1264.8,991.2 1271.7,991.3 1279.3,991.4 1286.9,991.5 1294.3,991.9 1301.5,992.5 1308.8,993.4 1315.6,994.3 1321.6,995.3 1326.3,996.3 1330.1,997.4 1333.6,998.6 1337.5,999.9 1341.8,1001.5 1346.1,1003.2 1350.7,1005 1355.6,1006.7 1360.7,1008.3 1365.9,1009.8 1371.7,1011.2 1378.3,1012.3 1385.5,1013 1393.2,1013.4 1402,1013.7 1412.4,1013.9 1426.3,1014.1 1442.8,1014.1 1458.3,1014.2 1469,1014.2" fill="none" stroke="#00fa00" stroke-width="4.5" stroke-linejoin="round" stroke-linecap="round"/>
<rect x="907.8" y="592.8" width="562.5" height="430.5" fill="none" stroke="#000" stroke-width="2.6"/>
<line x1="907.8" y1="1023.3" x2="907.8" y2="1028.6" stroke="#000" stroke-width="2.6" stroke-linecap="butt"/>
<line x1="970.3" y1="1023.3" x2="970.3" y2="1032.6" stroke="#000" stroke-width="2.6" stroke-linecap="butt"/>
<line x1="1032.8" y1="1023.3" x2="1032.8" y2="1028.6" stroke="#000" stroke-width="2.6" stroke-linecap="butt"/>
<line x1="1095.3" y1="1023.3" x2="1095.3" y2="1032.6" stroke="#000" stroke-width="2.6" stroke-linecap="butt"/>
<line x1="1157.8" y1="1023.3" x2="1157.8" y2="1028.6" stroke="#000" stroke-width="2.6" stroke-linecap="butt"/>
<line x1="1220.3" y1="1023.3" x2="1220.3" y2="1032.6" stroke="#000" stroke-width="2.6" stroke-linecap="butt"/>
<line x1="1282.8" y1="1023.3" x2="1282.8" y2="1028.6" stroke="#000" stroke-width="2.6" stroke-linecap="butt"/>
<line x1="1345.3" y1="1023.3" x2="1345.3" y2="1032.6" stroke="#000" stroke-width="2.6" stroke-linecap="butt"/>
<line x1="1407.8" y1="1023.3" x2="1407.8" y2="1028.6" stroke="#000" stroke-width="2.6" stroke-linecap="butt"/>
<line x1="1470.3" y1="1023.3" x2="1470.3" y2="1032.6" stroke="#000" stroke-width="2.6" stroke-linecap="butt"/>
<line x1="970.3" y1="592.8" x2="970.3" y2="602.1" stroke="#000" stroke-width="2.6" stroke-linecap="butt"/>
<line x1="1032.8" y1="592.8" x2="1032.8" y2="598.1" stroke="#000" stroke-width="2.6" stroke-linecap="butt"/>
<line x1="1095.3" y1="592.8" x2="1095.3" y2="602.1" stroke="#000" stroke-width="2.6" stroke-linecap="butt"/>
<line x1="1157.8" y1="592.8" x2="1157.8" y2="598.1" stroke="#000" stroke-width="2.6" stroke-linecap="butt"/>
<line x1="1220.3" y1="592.8" x2="1220.3" y2="602.1" stroke="#000" stroke-width="2.6" stroke-linecap="butt"/>
<line x1="1282.8" y1="592.8" x2="1282.8" y2="598.1" stroke="#000" stroke-width="2.6" stroke-linecap="butt"/>
<line x1="1345.3" y1="592.8" x2="1345.3" y2="602.1" stroke="#000" stroke-width="2.6" stroke-linecap="butt"/>
<line x1="1407.8" y1="592.8" x2="1407.8" y2="598.1" stroke="#000" stroke-width="2.6" stroke-linecap="butt"/>
<line x1="899.3" y1="1023.3" x2="907.8" y2="1023.3" stroke="#000" stroke-width="2.6" stroke-linecap="butt"/>
<line x1="902.8" y1="969.5" x2="907.8" y2="969.5" stroke="#000" stroke-width="2.6" stroke-linecap="butt"/>
<line x1="1465.3" y1="969.5" x2="1470.3" y2="969.5" stroke="#000" stroke-width="2.6" stroke-linecap="butt"/>
<line x1="899.3" y1="915.7" x2="907.8" y2="915.7" stroke="#000" stroke-width="2.6" stroke-linecap="butt"/>
<line x1="1461.8" y1="915.7" x2="1470.3" y2="915.7" stroke="#000" stroke-width="2.6" stroke-linecap="butt"/>
<line x1="902.8" y1="861.9" x2="907.8" y2="861.9" stroke="#000" stroke-width="2.6" stroke-linecap="butt"/>
<line x1="1465.3" y1="861.9" x2="1470.3" y2="861.9" stroke="#000" stroke-width="2.6" stroke-linecap="butt"/>
<line x1="899.3" y1="808" x2="907.8" y2="808" stroke="#000" stroke-width="2.6" stroke-linecap="butt"/>
<line x1="1461.8" y1="808" x2="1470.3" y2="808" stroke="#000" stroke-width="2.6" stroke-linecap="butt"/>
<line x1="902.8" y1="754.2" x2="907.8" y2="754.2" stroke="#000" stroke-width="2.6" stroke-linecap="butt"/>
<line x1="1465.3" y1="754.2" x2="1470.3" y2="754.2" stroke="#000" stroke-width="2.6" stroke-linecap="butt"/>
<line x1="899.3" y1="700.4" x2="907.8" y2="700.4" stroke="#000" stroke-width="2.6" stroke-linecap="butt"/>
<line x1="1461.8" y1="700.4" x2="1470.3" y2="700.4" stroke="#000" stroke-width="2.6" stroke-linecap="butt"/>
<line x1="902.8" y1="646.6" x2="907.8" y2="646.6" stroke="#000" stroke-width="2.6" stroke-linecap="butt"/>
<line x1="1465.3" y1="646.6" x2="1470.3" y2="646.6" stroke="#000" stroke-width="2.6" stroke-linecap="butt"/>
<line x1="899.3" y1="592.8" x2="907.8" y2="592.8" stroke="#000" stroke-width="2.6" stroke-linecap="butt"/>
<text x="970.3" y="1062.6" font-size="35" text-anchor="middle">300</text>
<text x="1095.3" y="1062.6" font-size="35" text-anchor="middle">400</text>
<text x="1220.3" y="1062.6" font-size="35" text-anchor="middle">500</text>
<text x="1345.3" y="1062.6" font-size="35" text-anchor="middle">600</text>
<text x="1470.3" y="1062.6" font-size="35" text-anchor="middle">700</text>
<text x="893.5" y="1033.6" font-size="35" text-anchor="end">0.0</text>
<text x="893.5" y="926" font-size="35" text-anchor="end">0.5</text>
<text x="893.5" y="818.3" font-size="35" text-anchor="end">1.0</text>
<text x="893.5" y="710.7" font-size="35" text-anchor="end">1.5</text>
<text x="893.5" y="603.1" font-size="35" text-anchor="end">2.0</text>
<rect x="1230.4" y="594.6" width="239.6" height="134.2" fill="#fff" stroke="#555" stroke-width="1"/>
<line x1="1234" y1="619.2" x2="1281.5" y2="619.2" stroke="#ff0000" stroke-width="5.5" stroke-linecap="round"/>
<line x1="1234" y1="665.9" x2="1281.5" y2="665.9" stroke="#00a0ff" stroke-width="5.5" stroke-linecap="round"/>
<line x1="1234" y1="704.3" x2="1281.5" y2="704.3" stroke="#00fa00" stroke-width="5.5" stroke-linecap="round"/>
<text x="1290" y="626.2" font-size="30.5" text-anchor="start" font-weight="bold">CuCrO<tspan font-size="18" dy="10">2</tspan></text>
<text x="1290" y="672.5" font-size="30.5" text-anchor="start" font-weight="bold">AZO</text>
<text x="1286.5" y="711.3" font-size="30.5" text-anchor="start" font-weight="bold">CuCrO<tspan font-size="18" dy="10">2</tspan><tspan dy="-10" dx="-1">/AZO</tspan></text>
<rect x="907.8" y="592.8" width="562.5" height="430.5" fill="none" stroke="#000" stroke-width="2.6"/>
<text x="826.4" y="811" font-size="43.5" text-anchor="middle" font-weight="bold" transform="rotate(-90 826.4 811)">Absorption (a. u.)</text>
<text x="1166.9" y="1127" font-size="44" text-anchor="middle" font-weight="bold">Wavelength (nm)</text>
<text x="760.6" y="599.7" font-size="55" text-anchor="start" font-weight="bold">(d)</text>
</svg>
</body></html>
